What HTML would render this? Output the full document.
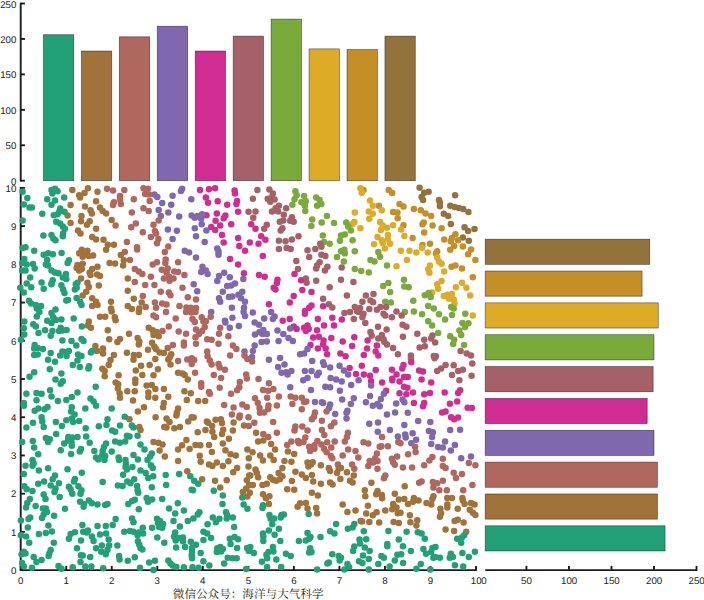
<!DOCTYPE html>
<html><head><meta charset="utf-8"><title>scatter</title>
<style>html,body{margin:0;padding:0;background:#fff}svg{display:block}text{font-family:"Liberation Sans",sans-serif;fill:#1c1c1c;text-rendering:geometricPrecision}</style></head><body>
<svg width="704" height="600" viewBox="0 0 704 600">
<rect width="704" height="600" fill="#fff"/>
<g stroke-width="0.7"><rect x="43.46" y="34.71" width="30.35" height="145.99" fill="#22A077" stroke="#000" stroke-opacity="0.55"/><rect x="81.41" y="51.01" width="30.35" height="129.69" fill="#A1723A" stroke="#000" stroke-opacity="0.55"/><rect x="119.35" y="36.83" width="30.35" height="143.87" fill="#B0675E" stroke="#000" stroke-opacity="0.55"/><rect x="157.29" y="26.20" width="30.35" height="154.50" fill="#7F68AE" stroke="#000" stroke-opacity="0.55"/><rect x="195.23" y="51.01" width="30.35" height="129.69" fill="#D12C94" stroke="#000" stroke-opacity="0.55"/><rect x="233.17" y="36.13" width="30.35" height="144.57" fill="#A66168" stroke="#000" stroke-opacity="0.55"/><rect x="271.12" y="19.12" width="30.35" height="161.58" fill="#79AA3A" stroke="#000" stroke-opacity="0.55"/><rect x="309.06" y="48.88" width="30.35" height="131.82" fill="#DDAB25" stroke="#000" stroke-opacity="0.55"/><rect x="347.00" y="49.59" width="30.35" height="131.11" fill="#C58E26" stroke="#000" stroke-opacity="0.55"/><rect x="384.94" y="36.13" width="30.35" height="144.57" fill="#93733B" stroke="#000" stroke-opacity="0.55"/></g>
<g stroke="#1c1c1c" stroke-width="1.9" fill="none"><path d="M20.70 2.72 V181.50"/><path d="M20.70 180.70 h4.2"/><path d="M20.70 145.26 h4.2"/><path d="M20.70 109.83 h4.2"/><path d="M20.70 74.39 h4.2"/><path d="M20.70 38.96 h4.2"/><path d="M20.70 3.52 h4.2"/></g>
<g font-family="'Liberation Sans', sans-serif" font-size="9.7" fill="#1a1a1a" text-anchor="end"><text x="16.3" y="184.74">0</text><text x="16.3" y="149.3">50</text><text x="16.3" y="113.87">100</text><text x="16.3" y="78.43">150</text><text x="16.3" y="43">200</text><text x="16.3" y="7.56">250</text></g>
<g stroke-width="0.7"><rect x="485.20" y="525.81" width="179.86" height="25.18" fill="#22A077" stroke="#000" stroke-opacity="0.55"/><rect x="485.20" y="493.96" width="172.20" height="25.18" fill="#A1723A" stroke="#000" stroke-opacity="0.55"/><rect x="485.20" y="462.11" width="172.20" height="25.18" fill="#B0675E" stroke="#000" stroke-opacity="0.55"/><rect x="485.20" y="430.26" width="168.80" height="25.18" fill="#7F68AE" stroke="#000" stroke-opacity="0.55"/><rect x="485.20" y="398.41" width="162.00" height="25.18" fill="#D12C94" stroke="#000" stroke-opacity="0.55"/><rect x="485.20" y="366.56" width="167.95" height="25.18" fill="#A66168" stroke="#000" stroke-opacity="0.55"/><rect x="485.20" y="334.71" width="168.80" height="25.18" fill="#79AA3A" stroke="#000" stroke-opacity="0.55"/><rect x="485.20" y="302.86" width="173.05" height="25.18" fill="#DDAB25" stroke="#000" stroke-opacity="0.55"/><rect x="485.20" y="271.01" width="156.89" height="25.18" fill="#C58E26" stroke="#000" stroke-opacity="0.55"/><rect x="485.20" y="239.16" width="164.55" height="25.18" fill="#93733B" stroke="#000" stroke-opacity="0.55"/></g>
<g stroke="#1c1c1c" stroke-width="1.9" fill="none"><path d="M485.20 570.10 H697.23"/><path d="M526.42 570.10 v-4.2"/><path d="M568.95 570.10 v-4.2"/><path d="M611.48 570.10 v-4.2"/><path d="M654.00 570.10 v-4.2"/><path d="M696.52 570.10 v-4.2"/></g>
<g font-family="'Liberation Sans', sans-serif" font-size="9.7" fill="#1a1a1a" text-anchor="middle"><text x="483.9" y="584.04">0</text><text x="526.4" y="584.04">50</text><text x="569.1" y="584.04">100</text><text x="611.6" y="584.04">150</text><text x="654.1" y="584.04">200</text><text x="696.6" y="584.04">250</text></g>
<g stroke="#1c1c1c" stroke-width="1.9" fill="none"><path d="M20.70 187.10 V570.10 H476.80"/><path d="M20.70 570.10 v-4.2"/><path d="M20.70 570.10 h4.2"/><path d="M66.23 570.10 v-4.2"/><path d="M20.70 531.88 h4.2"/><path d="M111.76 570.10 v-4.2"/><path d="M20.70 493.66 h4.2"/><path d="M157.29 570.10 v-4.2"/><path d="M20.70 455.44 h4.2"/><path d="M202.82 570.10 v-4.2"/><path d="M20.70 417.22 h4.2"/><path d="M248.35 570.10 v-4.2"/><path d="M20.70 379.00 h4.2"/><path d="M293.88 570.10 v-4.2"/><path d="M20.70 340.78 h4.2"/><path d="M339.41 570.10 v-4.2"/><path d="M20.70 302.56 h4.2"/><path d="M384.94 570.10 v-4.2"/><path d="M20.70 264.34 h4.2"/><path d="M430.47 570.10 v-4.2"/><path d="M20.70 226.12 h4.2"/><path d="M476.00 570.10 v-4.2"/><path d="M20.70 187.90 h4.2"/></g>
<g font-family="'Liberation Sans', sans-serif" font-size="9.7" fill="#1a1a1a" text-anchor="middle"><text x="20.7" y="583.79">0</text><text x="66.23" y="583.79">1</text><text x="111.76" y="583.79">2</text><text x="157.29" y="583.79">3</text><text x="202.82" y="583.79">4</text><text x="248.35" y="583.79">5</text><text x="293.88" y="583.79">6</text><text x="339.41" y="583.79">7</text><text x="384.94" y="583.79">8</text><text x="430.47" y="583.79">9</text><text x="476.2" y="583.79">10</text></g>
<g font-family="'Liberation Sans', sans-serif" font-size="9.7" fill="#1a1a1a" text-anchor="end"><text x="16.3" y="573.89">0</text><text x="16.3" y="535.67">1</text><text x="16.3" y="497.45">2</text><text x="16.3" y="459.23">3</text><text x="16.3" y="421.01">4</text><text x="16.3" y="382.79">5</text><text x="16.3" y="344.57">6</text><text x="16.3" y="306.35">7</text><text x="16.3" y="268.13">8</text><text x="16.3" y="229.91">9</text><text x="16.3" y="191.69">10</text></g>
<g fill="#93733B"><circle cx="419.6" cy="187.8" r="3.25"/><circle cx="428.6" cy="191.8" r="3.25"/><circle cx="424.2" cy="192.7" r="3.25"/><circle cx="421.6" cy="197.0" r="3.25"/><circle cx="423.0" cy="199.9" r="3.25"/><circle cx="455.1" cy="195.3" r="3.25"/><circle cx="439.0" cy="199.9" r="3.25"/><circle cx="439.9" cy="202.7" r="3.25"/><circle cx="439.9" cy="206.2" r="3.25"/><circle cx="450.2" cy="205.7" r="3.25"/><circle cx="454.6" cy="206.9" r="3.25"/><circle cx="458.9" cy="207.9" r="3.25"/><circle cx="463.2" cy="209.1" r="3.25"/><circle cx="468.4" cy="212.1" r="3.25"/><circle cx="443.8" cy="213.8" r="3.25"/><circle cx="448.2" cy="216.1" r="3.25"/><circle cx="450.8" cy="223.9" r="3.25"/><circle cx="464.5" cy="227.3" r="3.25"/><circle cx="468.1" cy="231.1" r="3.25"/><circle cx="474.5" cy="229.1" r="3.25"/><circle cx="462.9" cy="237.4" r="3.25"/><circle cx="468.8" cy="240.8" r="3.25"/></g>
<g fill="#C58E26"><circle cx="363.5" cy="190.1" r="3.25"/><circle cx="388.7" cy="190.1" r="3.25"/><circle cx="392.2" cy="193.0" r="3.25"/><circle cx="378.9" cy="205.7" r="3.25"/><circle cx="399.5" cy="203.9" r="3.25"/><circle cx="403.5" cy="206.5" r="3.25"/><circle cx="413.9" cy="209.1" r="3.25"/><circle cx="393.1" cy="212.1" r="3.25"/><circle cx="397.4" cy="212.6" r="3.25"/><circle cx="397.7" cy="218.3" r="3.25"/><circle cx="420.8" cy="210.3" r="3.25"/><circle cx="425.5" cy="213.5" r="3.25"/><circle cx="431.2" cy="216.1" r="3.25"/><circle cx="403.5" cy="225.2" r="3.25"/><circle cx="423.7" cy="222.5" r="3.25"/><circle cx="422.5" cy="224.2" r="3.25"/><circle cx="432.6" cy="225.6" r="3.25"/><circle cx="441.6" cy="228.2" r="3.25"/><circle cx="424.2" cy="232.5" r="3.25"/><circle cx="412.6" cy="238.1" r="3.25"/><circle cx="430.0" cy="243.8" r="3.25"/><circle cx="422.5" cy="245.0" r="3.25"/><circle cx="444.2" cy="239.4" r="3.25"/><circle cx="455.4" cy="234.3" r="3.25"/><circle cx="452.0" cy="238.1" r="3.25"/><circle cx="450.8" cy="241.2" r="3.25"/><circle cx="458.1" cy="240.3" r="3.25"/><circle cx="454.2" cy="246.0" r="3.25"/><circle cx="450.2" cy="249.8" r="3.25"/><circle cx="462.9" cy="246.4" r="3.25"/><circle cx="471.0" cy="249.5" r="3.25"/><circle cx="468.1" cy="254.2" r="3.25"/><circle cx="437.2" cy="251.2" r="3.25"/><circle cx="435.9" cy="253.7" r="3.25"/><circle cx="475.4" cy="259.9" r="3.25"/><circle cx="451.5" cy="266.8" r="3.25"/><circle cx="455.4" cy="265.4" r="3.25"/><circle cx="462.0" cy="268.6" r="3.25"/><circle cx="472.8" cy="277.2" r="3.25"/></g>
<g fill="#DDAB25"><circle cx="360.4" cy="188.3" r="3.25"/><circle cx="361.8" cy="192.7" r="3.25"/><circle cx="354.8" cy="212.6" r="3.25"/><circle cx="354.3" cy="222.1" r="3.25"/><circle cx="352.1" cy="224.2" r="3.25"/><circle cx="360.4" cy="228.2" r="3.25"/><circle cx="370.0" cy="200.5" r="3.25"/><circle cx="372.8" cy="205.7" r="3.25"/><circle cx="368.8" cy="211.4" r="3.25"/><circle cx="372.8" cy="213.8" r="3.25"/><circle cx="369.3" cy="218.7" r="3.25"/><circle cx="381.8" cy="210.3" r="3.25"/><circle cx="380.1" cy="222.1" r="3.25"/><circle cx="382.7" cy="225.6" r="3.25"/><circle cx="380.9" cy="229.9" r="3.25"/><circle cx="387.0" cy="227.7" r="3.25"/><circle cx="393.1" cy="225.2" r="3.25"/><circle cx="401.2" cy="229.4" r="3.25"/><circle cx="404.3" cy="236.0" r="3.25"/><circle cx="377.5" cy="236.9" r="3.25"/><circle cx="381.8" cy="240.3" r="3.25"/><circle cx="382.7" cy="242.9" r="3.25"/><circle cx="387.9" cy="235.1" r="3.25"/><circle cx="387.9" cy="239.4" r="3.25"/><circle cx="390.1" cy="243.8" r="3.25"/><circle cx="374.0" cy="244.3" r="3.25"/><circle cx="384.9" cy="248.5" r="3.25"/><circle cx="400.9" cy="250.7" r="3.25"/><circle cx="409.5" cy="250.7" r="3.25"/><circle cx="416.4" cy="252.4" r="3.25"/><circle cx="422.0" cy="247.8" r="3.25"/><circle cx="427.7" cy="252.4" r="3.25"/><circle cx="406.9" cy="259.9" r="3.25"/><circle cx="396.5" cy="266.3" r="3.25"/><circle cx="437.2" cy="257.6" r="3.25"/><circle cx="439.0" cy="261.6" r="3.25"/><circle cx="441.6" cy="263.7" r="3.25"/><circle cx="430.0" cy="265.4" r="3.25"/><circle cx="428.2" cy="269.3" r="3.25"/><circle cx="429.4" cy="272.7" r="3.25"/><circle cx="444.2" cy="271.5" r="3.25"/><circle cx="441.6" cy="281.1" r="3.25"/><circle cx="462.0" cy="282.8" r="3.25"/><circle cx="437.2" cy="284.3" r="3.25"/><circle cx="438.1" cy="288.7" r="3.25"/><circle cx="432.1" cy="292.5" r="3.25"/><circle cx="456.0" cy="287.3" r="3.25"/><circle cx="466.4" cy="287.8" r="3.25"/><circle cx="470.2" cy="295.6" r="3.25"/><circle cx="443.8" cy="295.9" r="3.25"/><circle cx="447.6" cy="294.7" r="3.25"/><circle cx="452.0" cy="293.9" r="3.25"/><circle cx="449.0" cy="298.7" r="3.25"/><circle cx="453.7" cy="299.4" r="3.25"/><circle cx="454.6" cy="303.4" r="3.25"/><circle cx="472.8" cy="315.5" r="3.25"/></g>
<g fill="#79AA3A"><circle cx="295.4" cy="191.3" r="3.25"/><circle cx="296.6" cy="195.3" r="3.25"/><circle cx="294.5" cy="199.2" r="3.25"/><circle cx="292.4" cy="204.8" r="3.25"/><circle cx="304.1" cy="196.1" r="3.25"/><circle cx="301.4" cy="202.2" r="3.25"/><circle cx="305.8" cy="201.3" r="3.25"/><circle cx="304.9" cy="205.7" r="3.25"/><circle cx="305.3" cy="210.9" r="3.25"/><circle cx="316.2" cy="197.5" r="3.25"/><circle cx="319.6" cy="199.9" r="3.25"/><circle cx="321.4" cy="203.9" r="3.25"/><circle cx="317.1" cy="205.7" r="3.25"/><circle cx="326.9" cy="216.1" r="3.25"/><circle cx="312.2" cy="219.5" r="3.25"/><circle cx="321.7" cy="222.5" r="3.25"/><circle cx="311.3" cy="225.9" r="3.25"/><circle cx="334.0" cy="223.0" r="3.25"/><circle cx="346.2" cy="222.5" r="3.25"/><circle cx="348.2" cy="226.5" r="3.25"/><circle cx="350.8" cy="230.4" r="3.25"/><circle cx="322.8" cy="235.6" r="3.25"/><circle cx="324.0" cy="242.1" r="3.25"/><circle cx="329.7" cy="243.8" r="3.25"/><circle cx="341.0" cy="235.6" r="3.25"/><circle cx="344.8" cy="234.6" r="3.25"/><circle cx="339.9" cy="240.8" r="3.25"/><circle cx="352.6" cy="240.3" r="3.25"/><circle cx="341.0" cy="251.2" r="3.25"/><circle cx="344.4" cy="249.8" r="3.25"/><circle cx="344.8" cy="253.3" r="3.25"/><circle cx="337.0" cy="257.1" r="3.25"/><circle cx="354.8" cy="251.2" r="3.25"/><circle cx="343.9" cy="261.6" r="3.25"/><circle cx="354.8" cy="268.9" r="3.25"/><circle cx="361.2" cy="271.0" r="3.25"/><circle cx="378.3" cy="251.9" r="3.25"/><circle cx="380.1" cy="256.8" r="3.25"/><circle cx="370.5" cy="259.9" r="3.25"/><circle cx="374.5" cy="261.6" r="3.25"/><circle cx="387.0" cy="265.4" r="3.25"/><circle cx="368.8" cy="272.4" r="3.25"/><circle cx="404.0" cy="279.7" r="3.25"/><circle cx="388.4" cy="283.1" r="3.25"/><circle cx="383.2" cy="286.1" r="3.25"/><circle cx="404.3" cy="286.6" r="3.25"/><circle cx="408.7" cy="287.3" r="3.25"/><circle cx="390.1" cy="292.1" r="3.25"/><circle cx="385.3" cy="301.7" r="3.25"/><circle cx="390.8" cy="302.5" r="3.25"/><circle cx="413.3" cy="300.8" r="3.25"/><circle cx="424.8" cy="295.2" r="3.25"/><circle cx="430.7" cy="297.0" r="3.25"/><circle cx="428.6" cy="293.0" r="3.25"/><circle cx="428.2" cy="306.0" r="3.25"/><circle cx="433.8" cy="308.6" r="3.25"/><circle cx="439.0" cy="314.3" r="3.25"/><circle cx="445.1" cy="319.5" r="3.25"/><circle cx="404.8" cy="312.1" r="3.25"/><circle cx="413.9" cy="311.5" r="3.25"/><circle cx="422.0" cy="314.3" r="3.25"/><circle cx="428.2" cy="321.2" r="3.25"/><circle cx="432.1" cy="325.4" r="3.25"/><circle cx="438.1" cy="332.9" r="3.25"/><circle cx="451.1" cy="306.9" r="3.25"/><circle cx="453.7" cy="308.6" r="3.25"/><circle cx="452.0" cy="315.0" r="3.25"/><circle cx="465.3" cy="313.8" r="3.25"/><circle cx="462.4" cy="323.0" r="3.25"/><circle cx="468.4" cy="323.3" r="3.25"/><circle cx="465.0" cy="327.1" r="3.25"/><circle cx="459.4" cy="330.6" r="3.25"/><circle cx="461.2" cy="335.1" r="3.25"/><circle cx="450.2" cy="336.3" r="3.25"/><circle cx="454.2" cy="339.8" r="3.25"/><circle cx="453.2" cy="344.1" r="3.25"/><circle cx="464.1" cy="345.0" r="3.25"/></g>
<g fill="#A66168"><circle cx="248.5" cy="211.7" r="3.25"/><circle cx="257.3" cy="190.1" r="3.25"/><circle cx="269.4" cy="189.6" r="3.25"/><circle cx="272.9" cy="193.5" r="3.25"/><circle cx="252.9" cy="198.7" r="3.25"/><circle cx="267.7" cy="198.7" r="3.25"/><circle cx="272.0" cy="197.0" r="3.25"/><circle cx="274.6" cy="199.6" r="3.25"/><circle cx="270.3" cy="201.7" r="3.25"/><circle cx="278.9" cy="205.7" r="3.25"/><circle cx="275.5" cy="208.3" r="3.25"/><circle cx="272.0" cy="211.4" r="3.25"/><circle cx="278.1" cy="211.4" r="3.25"/><circle cx="286.2" cy="208.3" r="3.25"/><circle cx="283.8" cy="214.8" r="3.25"/><circle cx="255.5" cy="211.4" r="3.25"/><circle cx="253.3" cy="217.8" r="3.25"/><circle cx="291.9" cy="217.3" r="3.25"/><circle cx="290.2" cy="220.7" r="3.25"/><circle cx="293.7" cy="221.8" r="3.25"/><circle cx="279.8" cy="221.8" r="3.25"/><circle cx="283.3" cy="220.4" r="3.25"/><circle cx="266.8" cy="224.7" r="3.25"/><circle cx="264.2" cy="228.7" r="3.25"/><circle cx="282.4" cy="228.2" r="3.25"/><circle cx="280.7" cy="230.4" r="3.25"/><circle cx="298.5" cy="236.3" r="3.25"/><circle cx="291.9" cy="239.4" r="3.25"/><circle cx="278.9" cy="240.8" r="3.25"/><circle cx="285.5" cy="241.2" r="3.25"/><circle cx="278.9" cy="249.0" r="3.25"/><circle cx="286.7" cy="248.1" r="3.25"/><circle cx="290.7" cy="249.0" r="3.25"/><circle cx="307.5" cy="250.2" r="3.25"/><circle cx="315.3" cy="249.0" r="3.25"/><circle cx="320.2" cy="243.8" r="3.25"/><circle cx="321.4" cy="246.7" r="3.25"/><circle cx="321.4" cy="254.7" r="3.25"/><circle cx="325.4" cy="255.9" r="3.25"/><circle cx="309.2" cy="257.1" r="3.25"/><circle cx="319.6" cy="262.3" r="3.25"/><circle cx="317.1" cy="265.4" r="3.25"/><circle cx="316.2" cy="268.6" r="3.25"/><circle cx="327.4" cy="266.8" r="3.25"/><circle cx="324.9" cy="270.6" r="3.25"/><circle cx="296.3" cy="261.1" r="3.25"/><circle cx="298.0" cy="268.9" r="3.25"/><circle cx="341.7" cy="267.5" r="3.25"/><circle cx="305.8" cy="278.4" r="3.25"/><circle cx="306.6" cy="282.8" r="3.25"/><circle cx="316.2" cy="280.7" r="3.25"/><circle cx="341.0" cy="279.7" r="3.25"/><circle cx="353.4" cy="281.9" r="3.25"/><circle cx="329.7" cy="287.3" r="3.25"/><circle cx="323.1" cy="298.7" r="3.25"/><circle cx="328.8" cy="304.3" r="3.25"/><circle cx="332.3" cy="307.4" r="3.25"/><circle cx="346.9" cy="295.6" r="3.25"/><circle cx="362.4" cy="301.7" r="3.25"/><circle cx="354.8" cy="306.9" r="3.25"/><circle cx="360.0" cy="308.1" r="3.25"/><circle cx="358.6" cy="312.1" r="3.25"/><circle cx="363.5" cy="313.8" r="3.25"/><circle cx="362.4" cy="317.3" r="3.25"/><circle cx="356.9" cy="310.9" r="3.25"/><circle cx="344.4" cy="312.9" r="3.25"/><circle cx="350.0" cy="312.1" r="3.25"/><circle cx="353.8" cy="319.0" r="3.25"/><circle cx="365.9" cy="295.6" r="3.25"/><circle cx="373.5" cy="293.9" r="3.25"/><circle cx="370.5" cy="300.4" r="3.25"/><circle cx="373.1" cy="302.2" r="3.25"/><circle cx="369.3" cy="309.1" r="3.25"/><circle cx="376.9" cy="309.8" r="3.25"/><circle cx="380.4" cy="306.9" r="3.25"/><circle cx="386.1" cy="306.9" r="3.25"/><circle cx="365.3" cy="323.0" r="3.25"/><circle cx="383.5" cy="313.8" r="3.25"/><circle cx="385.3" cy="315.5" r="3.25"/><circle cx="391.9" cy="317.3" r="3.25"/><circle cx="396.5" cy="311.5" r="3.25"/><circle cx="401.7" cy="315.5" r="3.25"/><circle cx="402.6" cy="324.7" r="3.25"/><circle cx="406.4" cy="326.8" r="3.25"/><circle cx="378.0" cy="326.8" r="3.25"/><circle cx="386.6" cy="329.4" r="3.25"/><circle cx="370.5" cy="332.0" r="3.25"/><circle cx="371.7" cy="335.8" r="3.25"/><circle cx="381.8" cy="335.1" r="3.25"/><circle cx="378.3" cy="338.6" r="3.25"/><circle cx="383.5" cy="339.3" r="3.25"/><circle cx="384.4" cy="342.0" r="3.25"/><circle cx="387.0" cy="344.5" r="3.25"/><circle cx="402.9" cy="336.8" r="3.25"/><circle cx="417.3" cy="333.7" r="3.25"/><circle cx="393.1" cy="347.9" r="3.25"/><circle cx="397.9" cy="354.2" r="3.25"/><circle cx="424.2" cy="339.8" r="3.25"/><circle cx="432.4" cy="335.4" r="3.25"/><circle cx="431.2" cy="338.6" r="3.25"/><circle cx="435.2" cy="342.4" r="3.25"/><circle cx="419.6" cy="347.6" r="3.25"/><circle cx="424.8" cy="346.2" r="3.25"/><circle cx="410.9" cy="355.4" r="3.25"/><circle cx="410.9" cy="358.3" r="3.25"/><circle cx="433.8" cy="355.9" r="3.25"/><circle cx="435.9" cy="356.2" r="3.25"/><circle cx="434.6" cy="358.3" r="3.25"/><circle cx="460.6" cy="351.1" r="3.25"/><circle cx="466.7" cy="353.6" r="3.25"/><circle cx="471.0" cy="355.4" r="3.25"/><circle cx="472.3" cy="363.5" r="3.25"/><circle cx="445.6" cy="364.9" r="3.25"/><circle cx="441.1" cy="368.4" r="3.25"/><circle cx="437.2" cy="371.0" r="3.25"/><circle cx="453.7" cy="365.3" r="3.25"/><circle cx="458.1" cy="371.0" r="3.25"/><circle cx="462.9" cy="369.8" r="3.25"/><circle cx="452.0" cy="375.0" r="3.25"/><circle cx="471.6" cy="375.7" r="3.25"/><circle cx="459.4" cy="380.3" r="3.25"/></g>
<g fill="#D12C94"><circle cx="200.0" cy="190.1" r="3.25"/><circle cx="209.0" cy="189.2" r="3.25"/><circle cx="215.1" cy="188.3" r="3.25"/><circle cx="205.9" cy="197.5" r="3.25"/><circle cx="208.1" cy="202.7" r="3.25"/><circle cx="217.7" cy="201.3" r="3.25"/><circle cx="227.2" cy="204.8" r="3.25"/><circle cx="234.6" cy="190.6" r="3.25"/><circle cx="235.0" cy="193.5" r="3.25"/><circle cx="237.1" cy="201.0" r="3.25"/><circle cx="236.4" cy="203.9" r="3.25"/><circle cx="238.1" cy="211.7" r="3.25"/><circle cx="216.8" cy="213.5" r="3.25"/><circle cx="206.4" cy="215.2" r="3.25"/><circle cx="225.4" cy="215.5" r="3.25"/><circle cx="223.7" cy="218.3" r="3.25"/><circle cx="215.6" cy="220.7" r="3.25"/><circle cx="220.2" cy="225.6" r="3.25"/><circle cx="231.2" cy="224.2" r="3.25"/><circle cx="211.2" cy="227.0" r="3.25"/><circle cx="215.1" cy="229.9" r="3.25"/><circle cx="222.0" cy="235.1" r="3.25"/><circle cx="223.7" cy="242.6" r="3.25"/><circle cx="238.1" cy="238.1" r="3.25"/><circle cx="239.3" cy="246.0" r="3.25"/><circle cx="245.0" cy="250.7" r="3.25"/><circle cx="230.1" cy="258.9" r="3.25"/><circle cx="238.1" cy="264.6" r="3.25"/><circle cx="244.0" cy="273.2" r="3.25"/><circle cx="251.2" cy="224.2" r="3.25"/><circle cx="255.5" cy="228.7" r="3.25"/><circle cx="261.2" cy="236.3" r="3.25"/><circle cx="265.4" cy="239.8" r="3.25"/><circle cx="249.8" cy="242.6" r="3.25"/><circle cx="258.5" cy="243.8" r="3.25"/><circle cx="262.8" cy="255.9" r="3.25"/><circle cx="259.0" cy="275.0" r="3.25"/><circle cx="264.7" cy="276.7" r="3.25"/><circle cx="294.5" cy="274.1" r="3.25"/><circle cx="301.1" cy="280.2" r="3.25"/><circle cx="277.5" cy="279.7" r="3.25"/><circle cx="276.9" cy="283.1" r="3.25"/><circle cx="273.7" cy="287.8" r="3.25"/><circle cx="275.5" cy="289.5" r="3.25"/><circle cx="302.3" cy="290.1" r="3.25"/><circle cx="311.5" cy="292.1" r="3.25"/><circle cx="293.7" cy="295.9" r="3.25"/><circle cx="289.8" cy="302.5" r="3.25"/><circle cx="268.9" cy="304.3" r="3.25"/><circle cx="311.5" cy="305.6" r="3.25"/><circle cx="309.2" cy="307.7" r="3.25"/><circle cx="304.9" cy="310.9" r="3.25"/><circle cx="304.9" cy="313.8" r="3.25"/><circle cx="323.1" cy="306.3" r="3.25"/><circle cx="282.7" cy="320.7" r="3.25"/><circle cx="289.7" cy="319.0" r="3.25"/><circle cx="317.9" cy="319.0" r="3.25"/><circle cx="332.3" cy="317.8" r="3.25"/><circle cx="341.8" cy="319.5" r="3.25"/><circle cx="293.7" cy="326.4" r="3.25"/><circle cx="296.6" cy="328.9" r="3.25"/><circle cx="304.1" cy="327.7" r="3.25"/><circle cx="307.5" cy="325.4" r="3.25"/><circle cx="308.7" cy="328.9" r="3.25"/><circle cx="305.8" cy="331.1" r="3.25"/><circle cx="317.1" cy="330.3" r="3.25"/><circle cx="324.0" cy="325.4" r="3.25"/><circle cx="334.0" cy="325.4" r="3.25"/><circle cx="313.2" cy="337.5" r="3.25"/><circle cx="318.8" cy="336.8" r="3.25"/><circle cx="323.6" cy="340.6" r="3.25"/><circle cx="323.1" cy="344.5" r="3.25"/><circle cx="331.3" cy="338.1" r="3.25"/><circle cx="310.5" cy="345.0" r="3.25"/><circle cx="317.9" cy="348.4" r="3.25"/><circle cx="325.7" cy="348.4" r="3.25"/><circle cx="327.1" cy="354.2" r="3.25"/><circle cx="342.7" cy="341.5" r="3.25"/><circle cx="354.3" cy="337.2" r="3.25"/><circle cx="352.1" cy="345.9" r="3.25"/><circle cx="340.4" cy="353.6" r="3.25"/><circle cx="345.6" cy="356.2" r="3.25"/><circle cx="363.8" cy="354.9" r="3.25"/><circle cx="361.8" cy="365.8" r="3.25"/><circle cx="349.6" cy="368.0" r="3.25"/><circle cx="356.0" cy="373.9" r="3.25"/><circle cx="363.8" cy="374.4" r="3.25"/><circle cx="367.6" cy="340.6" r="3.25"/><circle cx="376.9" cy="345.5" r="3.25"/><circle cx="367.1" cy="348.4" r="3.25"/><circle cx="375.7" cy="351.4" r="3.25"/><circle cx="378.3" cy="355.4" r="3.25"/><circle cx="375.7" cy="370.1" r="3.25"/><circle cx="391.9" cy="369.8" r="3.25"/><circle cx="403.5" cy="364.9" r="3.25"/><circle cx="402.2" cy="368.4" r="3.25"/><circle cx="411.3" cy="362.3" r="3.25"/><circle cx="419.1" cy="370.5" r="3.25"/><circle cx="423.0" cy="371.5" r="3.25"/><circle cx="370.0" cy="375.7" r="3.25"/><circle cx="396.5" cy="374.4" r="3.25"/><circle cx="392.2" cy="378.8" r="3.25"/><circle cx="404.0" cy="377.1" r="3.25"/><circle cx="407.8" cy="377.1" r="3.25"/><circle cx="421.6" cy="379.6" r="3.25"/><circle cx="371.1" cy="381.2" r="3.25"/><circle cx="382.1" cy="382.6" r="3.25"/><circle cx="392.2" cy="380.3" r="3.25"/><circle cx="399.5" cy="381.6" r="3.25"/><circle cx="431.2" cy="382.6" r="3.25"/><circle cx="404.0" cy="386.7" r="3.25"/><circle cx="407.4" cy="387.8" r="3.25"/><circle cx="386.1" cy="390.7" r="3.25"/><circle cx="399.5" cy="393.3" r="3.25"/><circle cx="406.4" cy="394.2" r="3.25"/><circle cx="413.0" cy="392.5" r="3.25"/><circle cx="430.0" cy="393.0" r="3.25"/><circle cx="424.2" cy="394.2" r="3.25"/><circle cx="413.9" cy="402.9" r="3.25"/><circle cx="424.2" cy="402.9" r="3.25"/><circle cx="423.0" cy="406.3" r="3.25"/><circle cx="444.7" cy="392.5" r="3.25"/><circle cx="460.1" cy="390.2" r="3.25"/><circle cx="458.1" cy="393.0" r="3.25"/><circle cx="457.2" cy="401.6" r="3.25"/><circle cx="449.9" cy="403.7" r="3.25"/><circle cx="467.6" cy="407.7" r="3.25"/><circle cx="471.9" cy="408.1" r="3.25"/><circle cx="442.1" cy="412.4" r="3.25"/><circle cx="445.6" cy="411.5" r="3.25"/><circle cx="451.1" cy="417.2" r="3.25"/><circle cx="454.2" cy="419.3" r="3.25"/><circle cx="458.1" cy="417.6" r="3.25"/></g>
<g fill="#7F68AE"><circle cx="154.4" cy="194.4" r="3.25"/><circle cx="157.3" cy="197.0" r="3.25"/><circle cx="162.2" cy="203.1" r="3.25"/><circle cx="172.6" cy="195.8" r="3.25"/><circle cx="180.9" cy="190.9" r="3.25"/><circle cx="182.1" cy="188.8" r="3.25"/><circle cx="171.2" cy="204.8" r="3.25"/><circle cx="191.3" cy="199.2" r="3.25"/><circle cx="158.7" cy="210.0" r="3.25"/><circle cx="160.8" cy="216.1" r="3.25"/><circle cx="168.3" cy="212.6" r="3.25"/><circle cx="179.2" cy="216.6" r="3.25"/><circle cx="191.7" cy="215.5" r="3.25"/><circle cx="194.8" cy="217.8" r="3.25"/><circle cx="197.7" cy="216.1" r="3.25"/><circle cx="202.1" cy="214.3" r="3.25"/><circle cx="201.2" cy="218.7" r="3.25"/><circle cx="201.7" cy="224.2" r="3.25"/><circle cx="194.8" cy="228.2" r="3.25"/><circle cx="206.4" cy="230.4" r="3.25"/><circle cx="167.9" cy="229.4" r="3.25"/><circle cx="176.9" cy="230.8" r="3.25"/><circle cx="172.6" cy="239.1" r="3.25"/><circle cx="196.0" cy="236.3" r="3.25"/><circle cx="204.7" cy="242.1" r="3.25"/><circle cx="184.7" cy="250.7" r="3.25"/><circle cx="189.1" cy="252.4" r="3.25"/><circle cx="196.0" cy="257.6" r="3.25"/><circle cx="217.3" cy="248.5" r="3.25"/><circle cx="218.5" cy="251.6" r="3.25"/><circle cx="218.5" cy="254.7" r="3.25"/><circle cx="202.4" cy="266.8" r="3.25"/><circle cx="201.2" cy="272.0" r="3.25"/><circle cx="205.9" cy="270.6" r="3.25"/><circle cx="207.6" cy="274.1" r="3.25"/><circle cx="224.2" cy="272.7" r="3.25"/><circle cx="219.0" cy="275.9" r="3.25"/><circle cx="217.3" cy="281.1" r="3.25"/><circle cx="229.8" cy="277.2" r="3.25"/><circle cx="235.0" cy="283.6" r="3.25"/><circle cx="243.3" cy="279.0" r="3.25"/><circle cx="193.7" cy="284.3" r="3.25"/><circle cx="197.2" cy="291.3" r="3.25"/><circle cx="227.2" cy="286.1" r="3.25"/><circle cx="231.2" cy="285.6" r="3.25"/><circle cx="222.8" cy="291.8" r="3.25"/><circle cx="228.9" cy="297.0" r="3.25"/><circle cx="232.4" cy="296.5" r="3.25"/><circle cx="219.0" cy="298.2" r="3.25"/><circle cx="220.2" cy="301.7" r="3.25"/><circle cx="238.4" cy="294.7" r="3.25"/><circle cx="242.3" cy="291.8" r="3.25"/><circle cx="241.0" cy="298.2" r="3.25"/><circle cx="245.0" cy="301.7" r="3.25"/><circle cx="231.9" cy="307.7" r="3.25"/><circle cx="244.0" cy="307.7" r="3.25"/><circle cx="243.6" cy="312.1" r="3.25"/><circle cx="245.0" cy="316.1" r="3.25"/><circle cx="211.2" cy="312.1" r="3.25"/><circle cx="232.4" cy="317.8" r="3.25"/><circle cx="224.9" cy="320.7" r="3.25"/><circle cx="225.4" cy="322.5" r="3.25"/><circle cx="229.8" cy="327.7" r="3.25"/><circle cx="238.8" cy="325.9" r="3.25"/><circle cx="244.5" cy="351.4" r="3.25"/><circle cx="252.9" cy="312.6" r="3.25"/><circle cx="271.1" cy="312.1" r="3.25"/><circle cx="274.6" cy="316.4" r="3.25"/><circle cx="272.9" cy="319.0" r="3.25"/><circle cx="264.2" cy="318.5" r="3.25"/><circle cx="254.7" cy="322.5" r="3.25"/><circle cx="259.0" cy="324.7" r="3.25"/><circle cx="263.3" cy="329.9" r="3.25"/><circle cx="259.5" cy="332.0" r="3.25"/><circle cx="255.0" cy="334.6" r="3.25"/><circle cx="262.5" cy="334.1" r="3.25"/><circle cx="266.8" cy="334.1" r="3.25"/><circle cx="277.5" cy="330.6" r="3.25"/><circle cx="283.3" cy="334.1" r="3.25"/><circle cx="290.2" cy="328.5" r="3.25"/><circle cx="288.5" cy="338.1" r="3.25"/><circle cx="292.8" cy="341.0" r="3.25"/><circle cx="278.6" cy="341.0" r="3.25"/><circle cx="261.6" cy="342.0" r="3.25"/><circle cx="266.8" cy="341.5" r="3.25"/><circle cx="254.7" cy="345.5" r="3.25"/><circle cx="252.9" cy="351.1" r="3.25"/><circle cx="252.1" cy="357.1" r="3.25"/><circle cx="307.5" cy="349.0" r="3.25"/><circle cx="304.1" cy="353.6" r="3.25"/><circle cx="300.1" cy="354.2" r="3.25"/><circle cx="268.9" cy="359.7" r="3.25"/><circle cx="280.1" cy="358.0" r="3.25"/><circle cx="312.2" cy="361.1" r="3.25"/><circle cx="284.5" cy="364.6" r="3.25"/><circle cx="278.1" cy="367.0" r="3.25"/><circle cx="323.1" cy="362.3" r="3.25"/><circle cx="324.0" cy="364.9" r="3.25"/><circle cx="330.1" cy="367.5" r="3.25"/><circle cx="339.6" cy="365.8" r="3.25"/><circle cx="343.9" cy="370.5" r="3.25"/><circle cx="281.5" cy="372.7" r="3.25"/><circle cx="286.2" cy="372.2" r="3.25"/><circle cx="291.4" cy="371.0" r="3.25"/><circle cx="287.6" cy="374.4" r="3.25"/><circle cx="304.9" cy="371.0" r="3.25"/><circle cx="311.5" cy="371.0" r="3.25"/><circle cx="318.8" cy="372.7" r="3.25"/><circle cx="317.1" cy="375.3" r="3.25"/><circle cx="307.5" cy="377.9" r="3.25"/><circle cx="330.6" cy="377.9" r="3.25"/><circle cx="336.1" cy="379.6" r="3.25"/><circle cx="348.2" cy="374.4" r="3.25"/><circle cx="303.2" cy="380.3" r="3.25"/><circle cx="341.7" cy="381.6" r="3.25"/><circle cx="290.2" cy="387.3" r="3.25"/><circle cx="311.0" cy="389.9" r="3.25"/><circle cx="325.4" cy="386.7" r="3.25"/><circle cx="330.1" cy="387.3" r="3.25"/><circle cx="339.9" cy="390.7" r="3.25"/><circle cx="351.2" cy="385.0" r="3.25"/><circle cx="358.6" cy="380.3" r="3.25"/><circle cx="342.2" cy="399.4" r="3.25"/><circle cx="353.8" cy="398.2" r="3.25"/><circle cx="350.8" cy="404.1" r="3.25"/><circle cx="315.0" cy="402.0" r="3.25"/><circle cx="321.9" cy="402.3" r="3.25"/><circle cx="323.1" cy="402.9" r="3.25"/><circle cx="330.1" cy="404.6" r="3.25"/><circle cx="329.2" cy="408.1" r="3.25"/><circle cx="347.4" cy="410.7" r="3.25"/><circle cx="346.5" cy="412.7" r="3.25"/><circle cx="335.2" cy="414.1" r="3.25"/><circle cx="346.5" cy="418.5" r="3.25"/><circle cx="371.1" cy="385.5" r="3.25"/><circle cx="370.0" cy="395.9" r="3.25"/><circle cx="383.9" cy="393.7" r="3.25"/><circle cx="380.9" cy="398.9" r="3.25"/><circle cx="365.9" cy="402.3" r="3.25"/><circle cx="372.8" cy="405.8" r="3.25"/><circle cx="377.5" cy="404.1" r="3.25"/><circle cx="379.7" cy="406.3" r="3.25"/><circle cx="402.6" cy="399.4" r="3.25"/><circle cx="404.3" cy="402.3" r="3.25"/><circle cx="396.2" cy="403.4" r="3.25"/><circle cx="387.0" cy="414.5" r="3.25"/><circle cx="395.1" cy="412.4" r="3.25"/><circle cx="407.8" cy="412.7" r="3.25"/><circle cx="369.3" cy="423.7" r="3.25"/><circle cx="378.0" cy="422.4" r="3.25"/><circle cx="418.2" cy="421.1" r="3.25"/><circle cx="430.3" cy="421.9" r="3.25"/><circle cx="404.3" cy="424.9" r="3.25"/><circle cx="377.8" cy="431.8" r="3.25"/><circle cx="389.9" cy="430.1" r="3.25"/><circle cx="412.6" cy="433.2" r="3.25"/><circle cx="405.2" cy="434.6" r="3.25"/><circle cx="405.7" cy="437.5" r="3.25"/><circle cx="397.9" cy="436.6" r="3.25"/><circle cx="416.1" cy="439.8" r="3.25"/><circle cx="411.3" cy="443.2" r="3.25"/><circle cx="428.9" cy="431.1" r="3.25"/><circle cx="432.9" cy="432.3" r="3.25"/><circle cx="432.1" cy="437.0" r="3.25"/><circle cx="431.2" cy="443.9" r="3.25"/><circle cx="450.2" cy="430.1" r="3.25"/><circle cx="460.1" cy="429.7" r="3.25"/><circle cx="445.1" cy="441.5" r="3.25"/><circle cx="438.1" cy="447.1" r="3.25"/><circle cx="442.8" cy="447.4" r="3.25"/><circle cx="454.9" cy="445.0" r="3.25"/><circle cx="450.8" cy="450.5" r="3.25"/><circle cx="461.2" cy="458.3" r="3.25"/><circle cx="471.0" cy="456.6" r="3.25"/></g>
<g fill="#B0675E"><circle cx="107.0" cy="188.8" r="3.25"/><circle cx="113.0" cy="190.6" r="3.25"/><circle cx="124.3" cy="190.1" r="3.25"/><circle cx="120.0" cy="196.1" r="3.25"/><circle cx="120.0" cy="199.6" r="3.25"/><circle cx="120.8" cy="203.9" r="3.25"/><circle cx="113.9" cy="202.2" r="3.25"/><circle cx="113.0" cy="205.1" r="3.25"/><circle cx="133.8" cy="199.2" r="3.25"/><circle cx="131.8" cy="212.6" r="3.25"/><circle cx="115.6" cy="225.6" r="3.25"/><circle cx="131.2" cy="227.3" r="3.25"/><circle cx="126.9" cy="242.1" r="3.25"/><circle cx="124.8" cy="251.9" r="3.25"/><circle cx="130.0" cy="259.9" r="3.25"/><circle cx="143.5" cy="188.3" r="3.25"/><circle cx="148.0" cy="188.8" r="3.25"/><circle cx="145.2" cy="194.1" r="3.25"/><circle cx="149.2" cy="194.4" r="3.25"/><circle cx="149.7" cy="201.0" r="3.25"/><circle cx="143.5" cy="208.3" r="3.25"/><circle cx="148.7" cy="210.9" r="3.25"/><circle cx="135.8" cy="223.5" r="3.25"/><circle cx="153.5" cy="224.7" r="3.25"/><circle cx="158.7" cy="220.4" r="3.25"/><circle cx="142.8" cy="232.2" r="3.25"/><circle cx="154.9" cy="231.1" r="3.25"/><circle cx="156.1" cy="233.4" r="3.25"/><circle cx="150.9" cy="236.9" r="3.25"/><circle cx="158.4" cy="239.1" r="3.25"/><circle cx="157.0" cy="243.3" r="3.25"/><circle cx="137.1" cy="247.2" r="3.25"/><circle cx="137.1" cy="249.5" r="3.25"/><circle cx="168.3" cy="246.4" r="3.25"/><circle cx="164.8" cy="252.1" r="3.25"/><circle cx="165.7" cy="259.4" r="3.25"/><circle cx="165.3" cy="262.9" r="3.25"/><circle cx="157.0" cy="262.3" r="3.25"/><circle cx="152.7" cy="264.6" r="3.25"/><circle cx="178.1" cy="262.3" r="3.25"/><circle cx="134.8" cy="268.9" r="3.25"/><circle cx="138.8" cy="271.5" r="3.25"/><circle cx="142.3" cy="274.1" r="3.25"/><circle cx="161.8" cy="269.8" r="3.25"/><circle cx="167.7" cy="268.6" r="3.25"/><circle cx="166.5" cy="272.4" r="3.25"/><circle cx="174.3" cy="271.5" r="3.25"/><circle cx="178.1" cy="272.0" r="3.25"/><circle cx="184.4" cy="275.0" r="3.25"/><circle cx="150.9" cy="276.7" r="3.25"/><circle cx="163.9" cy="278.4" r="3.25"/><circle cx="169.1" cy="276.7" r="3.25"/><circle cx="169.5" cy="280.7" r="3.25"/><circle cx="173.5" cy="278.4" r="3.25"/><circle cx="134.8" cy="281.9" r="3.25"/><circle cx="145.2" cy="284.9" r="3.25"/><circle cx="154.4" cy="284.9" r="3.25"/><circle cx="182.5" cy="287.8" r="3.25"/><circle cx="160.8" cy="291.8" r="3.25"/><circle cx="168.8" cy="292.5" r="3.25"/><circle cx="170.5" cy="295.2" r="3.25"/><circle cx="142.8" cy="295.9" r="3.25"/><circle cx="187.8" cy="297.3" r="3.25"/><circle cx="196.0" cy="299.4" r="3.25"/><circle cx="154.9" cy="302.5" r="3.25"/><circle cx="156.1" cy="307.7" r="3.25"/><circle cx="162.2" cy="303.4" r="3.25"/><circle cx="166.5" cy="304.6" r="3.25"/><circle cx="145.7" cy="306.9" r="3.25"/><circle cx="179.5" cy="306.0" r="3.25"/><circle cx="166.0" cy="312.1" r="3.25"/><circle cx="186.4" cy="307.4" r="3.25"/><circle cx="190.8" cy="307.7" r="3.25"/><circle cx="196.0" cy="308.1" r="3.25"/><circle cx="186.1" cy="312.1" r="3.25"/><circle cx="191.3" cy="312.6" r="3.25"/><circle cx="195.5" cy="312.1" r="3.25"/><circle cx="153.5" cy="315.5" r="3.25"/><circle cx="156.1" cy="317.3" r="3.25"/><circle cx="175.7" cy="318.5" r="3.25"/><circle cx="192.5" cy="319.0" r="3.25"/><circle cx="194.8" cy="321.9" r="3.25"/><circle cx="201.7" cy="317.3" r="3.25"/><circle cx="203.4" cy="321.6" r="3.25"/><circle cx="205.9" cy="321.2" r="3.25"/><circle cx="210.7" cy="316.7" r="3.25"/><circle cx="168.8" cy="326.4" r="3.25"/><circle cx="162.5" cy="331.1" r="3.25"/><circle cx="178.7" cy="331.6" r="3.25"/><circle cx="186.1" cy="333.7" r="3.25"/><circle cx="204.7" cy="327.1" r="3.25"/><circle cx="202.1" cy="331.1" r="3.25"/><circle cx="196.0" cy="329.4" r="3.25"/><circle cx="198.9" cy="334.1" r="3.25"/><circle cx="195.5" cy="337.2" r="3.25"/><circle cx="220.2" cy="327.7" r="3.25"/><circle cx="219.0" cy="333.7" r="3.25"/><circle cx="228.4" cy="336.3" r="3.25"/><circle cx="207.2" cy="339.3" r="3.25"/><circle cx="211.6" cy="339.8" r="3.25"/><circle cx="196.0" cy="343.8" r="3.25"/><circle cx="218.5" cy="343.8" r="3.25"/><circle cx="183.9" cy="342.4" r="3.25"/><circle cx="183.9" cy="345.5" r="3.25"/><circle cx="172.9" cy="345.0" r="3.25"/><circle cx="167.7" cy="347.9" r="3.25"/><circle cx="232.9" cy="345.5" r="3.25"/><circle cx="236.4" cy="349.0" r="3.25"/><circle cx="207.2" cy="351.4" r="3.25"/><circle cx="207.6" cy="356.2" r="3.25"/><circle cx="230.1" cy="355.4" r="3.25"/><circle cx="209.8" cy="360.6" r="3.25"/><circle cx="211.6" cy="364.6" r="3.25"/><circle cx="218.5" cy="364.1" r="3.25"/><circle cx="219.7" cy="367.5" r="3.25"/><circle cx="224.9" cy="369.8" r="3.25"/><circle cx="178.1" cy="361.1" r="3.25"/><circle cx="187.3" cy="359.4" r="3.25"/><circle cx="191.7" cy="358.3" r="3.25"/><circle cx="194.2" cy="360.1" r="3.25"/><circle cx="191.7" cy="364.1" r="3.25"/><circle cx="195.1" cy="372.7" r="3.25"/><circle cx="213.8" cy="375.0" r="3.25"/><circle cx="221.1" cy="377.9" r="3.25"/><circle cx="244.5" cy="355.4" r="3.25"/><circle cx="247.4" cy="358.9" r="3.25"/><circle cx="246.2" cy="374.4" r="3.25"/><circle cx="246.8" cy="378.4" r="3.25"/><circle cx="201.2" cy="383.3" r="3.25"/><circle cx="201.2" cy="386.7" r="3.25"/><circle cx="219.7" cy="387.8" r="3.25"/><circle cx="209.0" cy="391.9" r="3.25"/><circle cx="209.8" cy="393.7" r="3.25"/><circle cx="239.8" cy="382.1" r="3.25"/><circle cx="239.3" cy="387.3" r="3.25"/><circle cx="237.1" cy="390.2" r="3.25"/><circle cx="231.0" cy="393.7" r="3.25"/><circle cx="224.2" cy="405.1" r="3.25"/><circle cx="233.6" cy="407.5" r="3.25"/><circle cx="242.3" cy="404.6" r="3.25"/><circle cx="246.8" cy="406.9" r="3.25"/><circle cx="231.9" cy="414.5" r="3.25"/><circle cx="239.8" cy="415.5" r="3.25"/><circle cx="239.3" cy="417.6" r="3.25"/><circle cx="248.5" cy="417.2" r="3.25"/><circle cx="248.8" cy="425.9" r="3.25"/><circle cx="252.1" cy="361.4" r="3.25"/><circle cx="258.5" cy="379.1" r="3.25"/><circle cx="268.9" cy="383.3" r="3.25"/><circle cx="263.0" cy="389.9" r="3.25"/><circle cx="268.2" cy="390.7" r="3.25"/><circle cx="273.4" cy="389.0" r="3.25"/><circle cx="278.9" cy="396.4" r="3.25"/><circle cx="255.0" cy="398.2" r="3.25"/><circle cx="257.8" cy="402.9" r="3.25"/><circle cx="267.1" cy="397.7" r="3.25"/><circle cx="268.5" cy="405.5" r="3.25"/><circle cx="268.2" cy="408.9" r="3.25"/><circle cx="264.2" cy="412.4" r="3.25"/><circle cx="259.9" cy="412.7" r="3.25"/><circle cx="259.5" cy="408.1" r="3.25"/><circle cx="276.9" cy="405.5" r="3.25"/><circle cx="254.3" cy="422.8" r="3.25"/><circle cx="273.2" cy="421.9" r="3.25"/><circle cx="290.7" cy="396.4" r="3.25"/><circle cx="295.4" cy="397.7" r="3.25"/><circle cx="301.8" cy="397.7" r="3.25"/><circle cx="304.1" cy="402.0" r="3.25"/><circle cx="306.3" cy="401.6" r="3.25"/><circle cx="292.4" cy="404.1" r="3.25"/><circle cx="301.8" cy="409.3" r="3.25"/><circle cx="315.0" cy="412.4" r="3.25"/><circle cx="313.9" cy="416.7" r="3.25"/><circle cx="311.9" cy="419.3" r="3.25"/><circle cx="321.9" cy="420.7" r="3.25"/><circle cx="326.6" cy="411.5" r="3.25"/><circle cx="295.4" cy="426.6" r="3.25"/><circle cx="294.5" cy="430.6" r="3.25"/><circle cx="302.3" cy="426.6" r="3.25"/><circle cx="307.5" cy="430.6" r="3.25"/><circle cx="334.4" cy="422.4" r="3.25"/><circle cx="330.9" cy="426.3" r="3.25"/><circle cx="321.9" cy="430.1" r="3.25"/><circle cx="324.3" cy="434.9" r="3.25"/><circle cx="276.9" cy="432.8" r="3.25"/><circle cx="263.3" cy="434.1" r="3.25"/><circle cx="268.2" cy="437.0" r="3.25"/><circle cx="305.3" cy="437.5" r="3.25"/><circle cx="303.5" cy="441.9" r="3.25"/><circle cx="291.4" cy="441.5" r="3.25"/><circle cx="287.2" cy="445.0" r="3.25"/><circle cx="298.0" cy="441.0" r="3.25"/><circle cx="298.9" cy="443.2" r="3.25"/><circle cx="317.4" cy="441.0" r="3.25"/><circle cx="314.4" cy="445.3" r="3.25"/><circle cx="309.2" cy="446.7" r="3.25"/><circle cx="310.1" cy="450.9" r="3.25"/><circle cx="314.4" cy="448.8" r="3.25"/><circle cx="321.4" cy="444.4" r="3.25"/><circle cx="324.0" cy="448.8" r="3.25"/><circle cx="326.6" cy="452.2" r="3.25"/><circle cx="327.1" cy="442.2" r="3.25"/><circle cx="334.7" cy="441.5" r="3.25"/><circle cx="331.3" cy="447.4" r="3.25"/><circle cx="330.9" cy="456.1" r="3.25"/><circle cx="332.3" cy="458.3" r="3.25"/><circle cx="347.9" cy="432.8" r="3.25"/><circle cx="346.9" cy="437.0" r="3.25"/><circle cx="344.8" cy="441.5" r="3.25"/><circle cx="348.2" cy="449.6" r="3.25"/><circle cx="342.7" cy="455.4" r="3.25"/><circle cx="355.5" cy="450.9" r="3.25"/><circle cx="358.3" cy="457.4" r="3.25"/><circle cx="363.5" cy="442.2" r="3.25"/><circle cx="352.1" cy="464.4" r="3.25"/><circle cx="354.3" cy="468.7" r="3.25"/><circle cx="337.9" cy="464.4" r="3.25"/><circle cx="382.1" cy="437.0" r="3.25"/><circle cx="368.3" cy="443.6" r="3.25"/><circle cx="379.7" cy="446.7" r="3.25"/><circle cx="381.4" cy="446.2" r="3.25"/><circle cx="387.9" cy="446.2" r="3.25"/><circle cx="398.3" cy="441.9" r="3.25"/><circle cx="400.5" cy="443.2" r="3.25"/><circle cx="415.1" cy="446.7" r="3.25"/><circle cx="415.6" cy="451.9" r="3.25"/><circle cx="376.9" cy="453.6" r="3.25"/><circle cx="408.1" cy="454.3" r="3.25"/><circle cx="375.2" cy="458.3" r="3.25"/><circle cx="369.7" cy="460.9" r="3.25"/><circle cx="373.1" cy="462.6" r="3.25"/><circle cx="377.5" cy="460.9" r="3.25"/><circle cx="368.3" cy="466.1" r="3.25"/><circle cx="377.5" cy="468.7" r="3.25"/><circle cx="391.9" cy="458.8" r="3.25"/><circle cx="397.1" cy="456.6" r="3.25"/><circle cx="393.1" cy="462.3" r="3.25"/><circle cx="394.8" cy="464.7" r="3.25"/><circle cx="402.9" cy="467.5" r="3.25"/><circle cx="412.1" cy="467.5" r="3.25"/><circle cx="432.4" cy="457.1" r="3.25"/><circle cx="429.4" cy="460.6" r="3.25"/><circle cx="424.2" cy="465.2" r="3.25"/><circle cx="442.8" cy="458.8" r="3.25"/><circle cx="442.8" cy="466.1" r="3.25"/><circle cx="445.6" cy="467.9" r="3.25"/><circle cx="468.8" cy="463.0" r="3.25"/><circle cx="475.4" cy="465.2" r="3.25"/><circle cx="453.7" cy="472.7" r="3.25"/><circle cx="461.9" cy="473.9" r="3.25"/><circle cx="385.3" cy="475.6" r="3.25"/><circle cx="383.9" cy="478.2" r="3.25"/><circle cx="419.1" cy="482.7" r="3.25"/><circle cx="421.6" cy="481.5" r="3.25"/><circle cx="432.9" cy="482.1" r="3.25"/><circle cx="437.2" cy="483.3" r="3.25"/><circle cx="442.8" cy="480.7" r="3.25"/><circle cx="433.4" cy="487.6" r="3.25"/><circle cx="439.3" cy="490.2" r="3.25"/><circle cx="446.8" cy="490.2" r="3.25"/><circle cx="456.0" cy="478.1" r="3.25"/><circle cx="463.2" cy="490.2" r="3.25"/><circle cx="472.4" cy="485.0" r="3.25"/></g>
<g fill="#A1723A"><circle cx="72.3" cy="190.1" r="3.25"/><circle cx="87.9" cy="188.3" r="3.25"/><circle cx="84.5" cy="193.0" r="3.25"/><circle cx="79.2" cy="195.3" r="3.25"/><circle cx="80.1" cy="197.5" r="3.25"/><circle cx="97.5" cy="191.8" r="3.25"/><circle cx="96.1" cy="201.3" r="3.25"/><circle cx="70.6" cy="205.1" r="3.25"/><circle cx="85.0" cy="206.5" r="3.25"/><circle cx="90.5" cy="210.3" r="3.25"/><circle cx="91.9" cy="213.5" r="3.25"/><circle cx="100.0" cy="207.4" r="3.25"/><circle cx="102.7" cy="210.9" r="3.25"/><circle cx="106.1" cy="213.5" r="3.25"/><circle cx="67.6" cy="215.5" r="3.25"/><circle cx="81.5" cy="216.1" r="3.25"/><circle cx="81.0" cy="221.3" r="3.25"/><circle cx="89.7" cy="221.3" r="3.25"/><circle cx="87.0" cy="224.7" r="3.25"/><circle cx="70.6" cy="223.0" r="3.25"/><circle cx="111.7" cy="219.9" r="3.25"/><circle cx="96.1" cy="228.7" r="3.25"/><circle cx="78.0" cy="230.4" r="3.25"/><circle cx="80.5" cy="233.4" r="3.25"/><circle cx="92.2" cy="236.9" r="3.25"/><circle cx="96.1" cy="239.4" r="3.25"/><circle cx="103.5" cy="239.8" r="3.25"/><circle cx="107.8" cy="244.7" r="3.25"/><circle cx="113.9" cy="244.7" r="3.25"/><circle cx="106.1" cy="249.8" r="3.25"/><circle cx="81.8" cy="249.8" r="3.25"/><circle cx="87.4" cy="250.7" r="3.25"/><circle cx="79.2" cy="253.3" r="3.25"/><circle cx="84.5" cy="255.1" r="3.25"/><circle cx="88.8" cy="255.9" r="3.25"/><circle cx="93.1" cy="255.4" r="3.25"/><circle cx="82.7" cy="256.8" r="3.25"/><circle cx="77.5" cy="265.1" r="3.25"/><circle cx="82.7" cy="263.7" r="3.25"/><circle cx="76.7" cy="268.1" r="3.25"/><circle cx="81.8" cy="268.9" r="3.25"/><circle cx="79.2" cy="270.6" r="3.25"/><circle cx="92.2" cy="268.9" r="3.25"/><circle cx="97.5" cy="266.8" r="3.25"/><circle cx="89.7" cy="272.4" r="3.25"/><circle cx="90.5" cy="275.0" r="3.25"/><circle cx="97.1" cy="274.5" r="3.25"/><circle cx="100.0" cy="275.9" r="3.25"/><circle cx="109.6" cy="262.9" r="3.25"/><circle cx="115.1" cy="263.4" r="3.25"/><circle cx="120.8" cy="255.1" r="3.25"/><circle cx="123.8" cy="260.2" r="3.25"/><circle cx="123.1" cy="265.4" r="3.25"/><circle cx="81.0" cy="278.4" r="3.25"/><circle cx="87.4" cy="282.8" r="3.25"/><circle cx="127.8" cy="278.4" r="3.25"/><circle cx="88.8" cy="286.9" r="3.25"/><circle cx="86.2" cy="291.8" r="3.25"/><circle cx="82.7" cy="295.6" r="3.25"/><circle cx="98.8" cy="285.6" r="3.25"/><circle cx="92.2" cy="298.2" r="3.25"/><circle cx="96.1" cy="301.7" r="3.25"/><circle cx="92.2" cy="306.0" r="3.25"/><circle cx="97.5" cy="305.1" r="3.25"/><circle cx="111.0" cy="301.7" r="3.25"/><circle cx="111.0" cy="308.6" r="3.25"/><circle cx="111.7" cy="311.5" r="3.25"/><circle cx="100.0" cy="316.7" r="3.25"/><circle cx="105.2" cy="316.7" r="3.25"/><circle cx="114.8" cy="317.3" r="3.25"/><circle cx="115.6" cy="320.2" r="3.25"/><circle cx="88.8" cy="321.6" r="3.25"/><circle cx="87.9" cy="325.4" r="3.25"/><circle cx="90.9" cy="327.7" r="3.25"/><circle cx="107.8" cy="330.3" r="3.25"/><circle cx="109.2" cy="339.3" r="3.25"/><circle cx="120.0" cy="338.9" r="3.25"/><circle cx="117.4" cy="342.0" r="3.25"/><circle cx="95.4" cy="345.9" r="3.25"/><circle cx="97.1" cy="351.1" r="3.25"/><circle cx="103.0" cy="348.4" r="3.25"/><circle cx="103.0" cy="353.6" r="3.25"/><circle cx="113.9" cy="354.9" r="3.25"/><circle cx="110.5" cy="360.1" r="3.25"/><circle cx="108.7" cy="364.9" r="3.25"/><circle cx="102.3" cy="368.7" r="3.25"/><circle cx="104.7" cy="371.0" r="3.25"/><circle cx="104.7" cy="376.2" r="3.25"/><circle cx="118.6" cy="375.3" r="3.25"/><circle cx="127.8" cy="290.7" r="3.25"/><circle cx="133.8" cy="298.7" r="3.25"/><circle cx="127.8" cy="306.0" r="3.25"/><circle cx="131.8" cy="309.1" r="3.25"/><circle cx="129.0" cy="333.7" r="3.25"/><circle cx="126.9" cy="352.8" r="3.25"/><circle cx="133.8" cy="354.9" r="3.25"/><circle cx="133.5" cy="359.7" r="3.25"/><circle cx="115.6" cy="382.6" r="3.25"/><circle cx="118.2" cy="384.3" r="3.25"/><circle cx="117.9" cy="388.5" r="3.25"/><circle cx="119.6" cy="393.3" r="3.25"/><circle cx="120.0" cy="397.7" r="3.25"/><circle cx="127.3" cy="391.2" r="3.25"/><circle cx="133.0" cy="400.6" r="3.25"/><circle cx="129.5" cy="419.3" r="3.25"/><circle cx="141.7" cy="302.5" r="3.25"/><circle cx="139.3" cy="308.6" r="3.25"/><circle cx="138.8" cy="312.1" r="3.25"/><circle cx="148.7" cy="327.7" r="3.25"/><circle cx="152.7" cy="330.3" r="3.25"/><circle cx="156.7" cy="332.0" r="3.25"/><circle cx="153.5" cy="335.1" r="3.25"/><circle cx="158.7" cy="336.3" r="3.25"/><circle cx="137.6" cy="338.1" r="3.25"/><circle cx="139.3" cy="341.5" r="3.25"/><circle cx="138.8" cy="344.5" r="3.25"/><circle cx="152.1" cy="342.7" r="3.25"/><circle cx="154.4" cy="346.7" r="3.25"/><circle cx="156.1" cy="349.3" r="3.25"/><circle cx="148.0" cy="349.7" r="3.25"/><circle cx="159.6" cy="352.4" r="3.25"/><circle cx="163.9" cy="353.1" r="3.25"/><circle cx="171.2" cy="354.2" r="3.25"/><circle cx="170.0" cy="357.1" r="3.25"/><circle cx="168.3" cy="359.4" r="3.25"/><circle cx="138.8" cy="354.9" r="3.25"/><circle cx="155.3" cy="358.9" r="3.25"/><circle cx="141.1" cy="365.8" r="3.25"/><circle cx="149.7" cy="364.9" r="3.25"/><circle cx="170.5" cy="364.6" r="3.25"/><circle cx="135.8" cy="370.5" r="3.25"/><circle cx="157.9" cy="369.2" r="3.25"/><circle cx="142.3" cy="375.0" r="3.25"/><circle cx="153.5" cy="375.3" r="3.25"/><circle cx="178.1" cy="372.7" r="3.25"/><circle cx="182.6" cy="373.6" r="3.25"/><circle cx="184.7" cy="375.0" r="3.25"/><circle cx="187.8" cy="379.6" r="3.25"/><circle cx="135.3" cy="379.6" r="3.25"/><circle cx="135.3" cy="382.9" r="3.25"/><circle cx="134.8" cy="391.2" r="3.25"/><circle cx="146.6" cy="385.5" r="3.25"/><circle cx="151.8" cy="385.0" r="3.25"/><circle cx="155.3" cy="389.0" r="3.25"/><circle cx="148.3" cy="392.5" r="3.25"/><circle cx="148.3" cy="397.1" r="3.25"/><circle cx="155.3" cy="397.7" r="3.25"/><circle cx="163.9" cy="389.0" r="3.25"/><circle cx="168.3" cy="396.8" r="3.25"/><circle cx="184.4" cy="391.2" r="3.25"/><circle cx="190.8" cy="393.3" r="3.25"/><circle cx="186.8" cy="399.9" r="3.25"/><circle cx="198.2" cy="401.1" r="3.25"/><circle cx="205.2" cy="401.1" r="3.25"/><circle cx="163.9" cy="402.9" r="3.25"/><circle cx="163.1" cy="407.2" r="3.25"/><circle cx="144.0" cy="407.2" r="3.25"/><circle cx="137.9" cy="411.5" r="3.25"/><circle cx="178.1" cy="408.6" r="3.25"/><circle cx="176.9" cy="412.4" r="3.25"/><circle cx="176.4" cy="415.5" r="3.25"/><circle cx="155.6" cy="417.2" r="3.25"/><circle cx="166.5" cy="418.5" r="3.25"/><circle cx="169.5" cy="421.9" r="3.25"/><circle cx="191.7" cy="417.2" r="3.25"/><circle cx="193.7" cy="417.6" r="3.25"/><circle cx="188.2" cy="421.4" r="3.25"/><circle cx="139.3" cy="427.1" r="3.25"/><circle cx="140.5" cy="430.1" r="3.25"/><circle cx="164.3" cy="427.1" r="3.25"/><circle cx="166.5" cy="427.6" r="3.25"/><circle cx="174.3" cy="428.3" r="3.25"/><circle cx="179.9" cy="427.1" r="3.25"/><circle cx="206.9" cy="421.4" r="3.25"/><circle cx="208.1" cy="422.8" r="3.25"/><circle cx="215.6" cy="419.7" r="3.25"/><circle cx="220.8" cy="419.3" r="3.25"/><circle cx="222.0" cy="423.1" r="3.25"/><circle cx="212.1" cy="425.9" r="3.25"/><circle cx="233.6" cy="422.4" r="3.25"/><circle cx="244.0" cy="425.4" r="3.25"/><circle cx="205.5" cy="430.1" r="3.25"/><circle cx="197.7" cy="432.3" r="3.25"/><circle cx="212.4" cy="431.8" r="3.25"/><circle cx="214.2" cy="437.0" r="3.25"/><circle cx="223.2" cy="429.7" r="3.25"/><circle cx="222.0" cy="434.1" r="3.25"/><circle cx="232.9" cy="430.6" r="3.25"/><circle cx="228.9" cy="438.7" r="3.25"/><circle cx="186.4" cy="440.1" r="3.25"/><circle cx="153.5" cy="441.9" r="3.25"/><circle cx="158.4" cy="442.7" r="3.25"/><circle cx="162.5" cy="444.4" r="3.25"/><circle cx="182.1" cy="445.3" r="3.25"/><circle cx="178.1" cy="449.6" r="3.25"/><circle cx="195.5" cy="445.0" r="3.25"/><circle cx="200.3" cy="445.3" r="3.25"/><circle cx="189.6" cy="449.1" r="3.25"/><circle cx="209.0" cy="445.0" r="3.25"/><circle cx="222.8" cy="443.6" r="3.25"/><circle cx="225.4" cy="450.2" r="3.25"/><circle cx="159.6" cy="450.5" r="3.25"/><circle cx="211.9" cy="451.9" r="3.25"/><circle cx="230.6" cy="454.3" r="3.25"/><circle cx="235.8" cy="455.4" r="3.25"/><circle cx="164.8" cy="456.6" r="3.25"/><circle cx="199.8" cy="455.7" r="3.25"/><circle cx="200.7" cy="461.8" r="3.25"/><circle cx="178.1" cy="460.9" r="3.25"/><circle cx="228.4" cy="461.3" r="3.25"/><circle cx="209.0" cy="464.4" r="3.25"/><circle cx="212.4" cy="466.1" r="3.25"/><circle cx="216.8" cy="462.6" r="3.25"/><circle cx="222.8" cy="466.1" r="3.25"/><circle cx="237.1" cy="467.9" r="3.25"/><circle cx="233.2" cy="472.2" r="3.25"/><circle cx="187.3" cy="471.3" r="3.25"/><circle cx="247.4" cy="449.6" r="3.25"/><circle cx="248.8" cy="458.3" r="3.25"/><circle cx="248.5" cy="466.5" r="3.25"/><circle cx="249.2" cy="475.6" r="3.25"/><circle cx="202.1" cy="479.3" r="3.25"/><circle cx="215.1" cy="480.7" r="3.25"/><circle cx="220.2" cy="487.6" r="3.25"/><circle cx="226.7" cy="480.3" r="3.25"/><circle cx="246.8" cy="480.3" r="3.25"/><circle cx="249.2" cy="485.0" r="3.25"/><circle cx="246.2" cy="488.5" r="3.25"/><circle cx="242.8" cy="491.9" r="3.25"/><circle cx="247.4" cy="496.6" r="3.25"/><circle cx="256.1" cy="432.8" r="3.25"/><circle cx="258.1" cy="441.5" r="3.25"/><circle cx="263.3" cy="440.5" r="3.25"/><circle cx="271.1" cy="443.9" r="3.25"/><circle cx="275.1" cy="449.6" r="3.25"/><circle cx="252.6" cy="452.2" r="3.25"/><circle cx="260.2" cy="455.4" r="3.25"/><circle cx="263.0" cy="460.6" r="3.25"/><circle cx="270.3" cy="455.4" r="3.25"/><circle cx="273.7" cy="460.1" r="3.25"/><circle cx="287.9" cy="451.4" r="3.25"/><circle cx="294.2" cy="454.0" r="3.25"/><circle cx="284.5" cy="460.9" r="3.25"/><circle cx="291.4" cy="461.8" r="3.25"/><circle cx="255.5" cy="469.6" r="3.25"/><circle cx="256.7" cy="472.7" r="3.25"/><circle cx="250.3" cy="475.6" r="3.25"/><circle cx="282.4" cy="467.9" r="3.25"/><circle cx="278.6" cy="473.1" r="3.25"/><circle cx="295.4" cy="471.7" r="3.25"/><circle cx="301.8" cy="474.4" r="3.25"/><circle cx="307.5" cy="462.6" r="3.25"/><circle cx="311.0" cy="464.4" r="3.25"/><circle cx="308.4" cy="466.5" r="3.25"/><circle cx="312.7" cy="462.3" r="3.25"/><circle cx="320.9" cy="465.2" r="3.25"/><circle cx="311.9" cy="475.1" r="3.25"/><circle cx="328.8" cy="467.9" r="3.25"/><circle cx="330.1" cy="471.0" r="3.25"/><circle cx="338.7" cy="468.7" r="3.25"/><circle cx="337.0" cy="473.1" r="3.25"/><circle cx="341.0" cy="467.9" r="3.25"/><circle cx="346.9" cy="472.2" r="3.25"/><circle cx="353.8" cy="475.6" r="3.25"/><circle cx="258.1" cy="477.2" r="3.25"/><circle cx="252.9" cy="485.0" r="3.25"/><circle cx="249.8" cy="492.8" r="3.25"/><circle cx="270.3" cy="477.2" r="3.25"/><circle cx="272.9" cy="479.8" r="3.25"/><circle cx="276.3" cy="480.7" r="3.25"/><circle cx="279.8" cy="479.3" r="3.25"/><circle cx="282.4" cy="476.3" r="3.25"/><circle cx="266.8" cy="483.8" r="3.25"/><circle cx="262.5" cy="485.0" r="3.25"/><circle cx="291.9" cy="481.0" r="3.25"/><circle cx="305.8" cy="478.1" r="3.25"/><circle cx="313.2" cy="481.5" r="3.25"/><circle cx="320.9" cy="483.8" r="3.25"/><circle cx="330.1" cy="482.4" r="3.25"/><circle cx="332.6" cy="484.5" r="3.25"/><circle cx="340.4" cy="478.9" r="3.25"/><circle cx="350.0" cy="480.7" r="3.25"/><circle cx="352.6" cy="482.4" r="3.25"/><circle cx="287.2" cy="489.3" r="3.25"/><circle cx="294.2" cy="489.7" r="3.25"/><circle cx="263.0" cy="494.2" r="3.25"/><circle cx="269.4" cy="496.3" r="3.25"/><circle cx="265.9" cy="498.3" r="3.25"/><circle cx="268.9" cy="504.1" r="3.25"/><circle cx="311.9" cy="492.8" r="3.25"/><circle cx="317.9" cy="495.4" r="3.25"/><circle cx="300.1" cy="503.2" r="3.25"/><circle cx="305.8" cy="502.9" r="3.25"/><circle cx="297.6" cy="506.7" r="3.25"/><circle cx="307.5" cy="508.4" r="3.25"/><circle cx="316.2" cy="508.1" r="3.25"/><circle cx="317.1" cy="513.6" r="3.25"/><circle cx="342.7" cy="504.6" r="3.25"/><circle cx="347.4" cy="511.9" r="3.25"/><circle cx="355.5" cy="510.5" r="3.25"/><circle cx="360.7" cy="520.9" r="3.25"/><circle cx="362.1" cy="521.4" r="3.25"/><circle cx="371.4" cy="482.7" r="3.25"/><circle cx="404.7" cy="486.2" r="3.25"/><circle cx="364.8" cy="490.2" r="3.25"/><circle cx="365.3" cy="496.3" r="3.25"/><circle cx="377.5" cy="491.1" r="3.25"/><circle cx="376.2" cy="494.2" r="3.25"/><circle cx="381.8" cy="494.9" r="3.25"/><circle cx="382.1" cy="498.3" r="3.25"/><circle cx="394.8" cy="493.7" r="3.25"/><circle cx="398.8" cy="499.4" r="3.25"/><circle cx="404.3" cy="498.9" r="3.25"/><circle cx="413.9" cy="498.0" r="3.25"/><circle cx="413.0" cy="501.8" r="3.25"/><circle cx="418.5" cy="500.6" r="3.25"/><circle cx="408.1" cy="504.1" r="3.25"/><circle cx="393.1" cy="504.1" r="3.25"/><circle cx="396.5" cy="507.5" r="3.25"/><circle cx="392.2" cy="509.3" r="3.25"/><circle cx="385.3" cy="510.5" r="3.25"/><circle cx="397.7" cy="513.2" r="3.25"/><circle cx="400.5" cy="512.7" r="3.25"/><circle cx="367.9" cy="505.8" r="3.25"/><circle cx="376.6" cy="512.2" r="3.25"/><circle cx="372.8" cy="515.3" r="3.25"/><circle cx="366.2" cy="513.6" r="3.25"/><circle cx="369.3" cy="521.9" r="3.25"/><circle cx="379.2" cy="522.6" r="3.25"/><circle cx="393.6" cy="521.9" r="3.25"/><circle cx="398.8" cy="523.1" r="3.25"/><circle cx="409.9" cy="515.3" r="3.25"/><circle cx="410.4" cy="522.3" r="3.25"/><circle cx="417.3" cy="520.2" r="3.25"/><circle cx="416.4" cy="525.4" r="3.25"/><circle cx="433.4" cy="496.3" r="3.25"/><circle cx="432.4" cy="498.9" r="3.25"/><circle cx="426.5" cy="502.9" r="3.25"/><circle cx="431.2" cy="504.6" r="3.25"/><circle cx="440.4" cy="508.7" r="3.25"/><circle cx="441.1" cy="513.2" r="3.25"/><circle cx="439.9" cy="516.7" r="3.25"/><circle cx="447.3" cy="498.0" r="3.25"/><circle cx="452.0" cy="498.0" r="3.25"/><circle cx="447.3" cy="504.6" r="3.25"/><circle cx="447.3" cy="507.5" r="3.25"/><circle cx="462.4" cy="498.0" r="3.25"/><circle cx="462.9" cy="500.6" r="3.25"/><circle cx="464.6" cy="504.1" r="3.25"/><circle cx="457.7" cy="508.7" r="3.25"/><circle cx="471.0" cy="502.9" r="3.25"/><circle cx="474.5" cy="504.6" r="3.25"/><circle cx="469.8" cy="509.8" r="3.25"/><circle cx="472.8" cy="512.7" r="3.25"/><circle cx="475.4" cy="515.0" r="3.25"/><circle cx="454.6" cy="520.9" r="3.25"/><circle cx="457.7" cy="519.7" r="3.25"/><circle cx="463.6" cy="522.6" r="3.25"/><circle cx="445.6" cy="529.5" r="3.25"/><circle cx="454.1" cy="530.9" r="3.25"/><circle cx="466.2" cy="531.8" r="3.25"/></g>
<g fill="#22A077"><circle cx="22.6" cy="191.8" r="3.25"/><circle cx="27.3" cy="197.9" r="3.25"/><circle cx="23.8" cy="204.4" r="3.25"/><circle cx="29.5" cy="207.4" r="3.25"/><circle cx="31.9" cy="207.6" r="3.25"/><circle cx="22.6" cy="220.4" r="3.25"/><circle cx="51.5" cy="190.1" r="3.25"/><circle cx="55.0" cy="188.8" r="3.25"/><circle cx="57.6" cy="191.3" r="3.25"/><circle cx="52.4" cy="193.5" r="3.25"/><circle cx="47.2" cy="199.2" r="3.25"/><circle cx="55.0" cy="200.5" r="3.25"/><circle cx="51.5" cy="204.8" r="3.25"/><circle cx="64.2" cy="197.5" r="3.25"/><circle cx="42.3" cy="213.8" r="3.25"/><circle cx="60.2" cy="208.6" r="3.25"/><circle cx="59.3" cy="211.7" r="3.25"/><circle cx="64.5" cy="211.7" r="3.25"/><circle cx="53.8" cy="215.2" r="3.25"/><circle cx="57.6" cy="214.3" r="3.25"/><circle cx="56.2" cy="221.8" r="3.25"/><circle cx="60.2" cy="223.5" r="3.25"/><circle cx="62.8" cy="226.5" r="3.25"/><circle cx="64.9" cy="228.7" r="3.25"/><circle cx="63.1" cy="233.4" r="3.25"/><circle cx="62.8" cy="236.3" r="3.25"/><circle cx="43.4" cy="235.6" r="3.25"/><circle cx="51.5" cy="235.1" r="3.25"/><circle cx="53.3" cy="238.6" r="3.25"/><circle cx="55.5" cy="240.3" r="3.25"/><circle cx="22.6" cy="248.1" r="3.25"/><circle cx="25.5" cy="247.2" r="3.25"/><circle cx="34.2" cy="250.7" r="3.25"/><circle cx="43.7" cy="254.7" r="3.25"/><circle cx="48.1" cy="253.3" r="3.25"/><circle cx="52.9" cy="254.2" r="3.25"/><circle cx="61.6" cy="253.0" r="3.25"/><circle cx="47.2" cy="259.9" r="3.25"/><circle cx="45.8" cy="264.6" r="3.25"/><circle cx="48.1" cy="265.4" r="3.25"/><circle cx="68.9" cy="260.2" r="3.25"/><circle cx="67.6" cy="262.9" r="3.25"/><circle cx="24.3" cy="258.9" r="3.25"/><circle cx="22.1" cy="262.9" r="3.25"/><circle cx="26.7" cy="264.6" r="3.25"/><circle cx="22.1" cy="270.6" r="3.25"/><circle cx="25.5" cy="270.6" r="3.25"/><circle cx="33.0" cy="264.1" r="3.25"/><circle cx="34.7" cy="268.6" r="3.25"/><circle cx="51.5" cy="270.6" r="3.25"/><circle cx="55.0" cy="272.4" r="3.25"/><circle cx="58.5" cy="273.2" r="3.25"/><circle cx="65.9" cy="274.1" r="3.25"/><circle cx="62.8" cy="277.6" r="3.25"/><circle cx="66.3" cy="279.0" r="3.25"/><circle cx="30.2" cy="277.6" r="3.25"/><circle cx="26.7" cy="283.6" r="3.25"/><circle cx="41.6" cy="282.4" r="3.25"/><circle cx="52.7" cy="280.2" r="3.25"/><circle cx="51.5" cy="283.6" r="3.25"/><circle cx="77.5" cy="282.8" r="3.25"/><circle cx="20.3" cy="287.8" r="3.25"/><circle cx="23.8" cy="292.5" r="3.25"/><circle cx="31.2" cy="287.3" r="3.25"/><circle cx="43.7" cy="288.7" r="3.25"/><circle cx="51.5" cy="284.3" r="3.25"/><circle cx="61.4" cy="285.2" r="3.25"/><circle cx="63.1" cy="289.5" r="3.25"/><circle cx="64.5" cy="293.0" r="3.25"/><circle cx="75.8" cy="284.3" r="3.25"/><circle cx="76.7" cy="287.8" r="3.25"/><circle cx="74.9" cy="289.5" r="3.25"/><circle cx="66.3" cy="300.4" r="3.25"/><circle cx="68.0" cy="299.9" r="3.25"/><circle cx="76.7" cy="297.9" r="3.25"/><circle cx="80.1" cy="301.7" r="3.25"/><circle cx="81.5" cy="305.1" r="3.25"/><circle cx="29.0" cy="300.8" r="3.25"/><circle cx="31.2" cy="303.4" r="3.25"/><circle cx="35.9" cy="305.1" r="3.25"/><circle cx="41.1" cy="306.0" r="3.25"/><circle cx="36.8" cy="308.6" r="3.25"/><circle cx="39.4" cy="312.1" r="3.25"/><circle cx="36.8" cy="316.4" r="3.25"/><circle cx="55.5" cy="309.5" r="3.25"/><circle cx="51.5" cy="312.9" r="3.25"/><circle cx="53.3" cy="317.3" r="3.25"/><circle cx="55.9" cy="319.9" r="3.25"/><circle cx="47.2" cy="320.7" r="3.25"/><circle cx="51.5" cy="323.0" r="3.25"/><circle cx="61.4" cy="319.5" r="3.25"/><circle cx="73.7" cy="318.5" r="3.25"/><circle cx="24.3" cy="321.6" r="3.25"/><circle cx="23.8" cy="328.2" r="3.25"/><circle cx="24.3" cy="334.6" r="3.25"/><circle cx="20.9" cy="339.8" r="3.25"/><circle cx="33.3" cy="324.2" r="3.25"/><circle cx="35.9" cy="326.4" r="3.25"/><circle cx="38.5" cy="332.9" r="3.25"/><circle cx="45.1" cy="330.3" r="3.25"/><circle cx="52.4" cy="331.1" r="3.25"/><circle cx="50.7" cy="335.8" r="3.25"/><circle cx="60.7" cy="327.7" r="3.25"/><circle cx="59.0" cy="331.1" r="3.25"/><circle cx="62.4" cy="330.6" r="3.25"/><circle cx="66.6" cy="329.9" r="3.25"/><circle cx="81.8" cy="326.4" r="3.25"/><circle cx="62.4" cy="340.6" r="3.25"/><circle cx="71.5" cy="341.0" r="3.25"/><circle cx="76.3" cy="345.5" r="3.25"/><circle cx="81.5" cy="338.9" r="3.25"/><circle cx="83.6" cy="341.0" r="3.25"/><circle cx="34.7" cy="345.0" r="3.25"/><circle cx="37.7" cy="347.9" r="3.25"/><circle cx="34.2" cy="348.4" r="3.25"/><circle cx="42.9" cy="349.0" r="3.25"/><circle cx="34.2" cy="354.9" r="3.25"/><circle cx="37.7" cy="354.5" r="3.25"/><circle cx="50.7" cy="353.1" r="3.25"/><circle cx="48.1" cy="359.7" r="3.25"/><circle cx="55.0" cy="361.8" r="3.25"/><circle cx="62.4" cy="351.4" r="3.25"/><circle cx="60.2" cy="355.4" r="3.25"/><circle cx="66.3" cy="351.9" r="3.25"/><circle cx="68.9" cy="351.1" r="3.25"/><circle cx="66.6" cy="355.9" r="3.25"/><circle cx="78.0" cy="354.5" r="3.25"/><circle cx="81.5" cy="355.9" r="3.25"/><circle cx="77.5" cy="360.6" r="3.25"/><circle cx="72.8" cy="364.9" r="3.25"/><circle cx="79.8" cy="367.0" r="3.25"/><circle cx="90.9" cy="352.4" r="3.25"/><circle cx="92.2" cy="351.1" r="3.25"/><circle cx="89.1" cy="366.3" r="3.25"/><circle cx="88.4" cy="368.4" r="3.25"/><circle cx="49.8" cy="369.2" r="3.25"/><circle cx="61.4" cy="373.6" r="3.25"/><circle cx="34.2" cy="372.2" r="3.25"/><circle cx="29.5" cy="376.7" r="3.25"/><circle cx="55.5" cy="379.6" r="3.25"/><circle cx="62.8" cy="381.2" r="3.25"/><circle cx="60.7" cy="383.8" r="3.25"/><circle cx="95.7" cy="386.7" r="3.25"/><circle cx="50.1" cy="390.2" r="3.25"/><circle cx="36.5" cy="393.0" r="3.25"/><circle cx="41.6" cy="393.7" r="3.25"/><circle cx="26.4" cy="393.7" r="3.25"/><circle cx="77.5" cy="392.5" r="3.25"/><circle cx="51.5" cy="396.4" r="3.25"/><circle cx="71.8" cy="397.1" r="3.25"/><circle cx="66.3" cy="399.9" r="3.25"/><circle cx="36.5" cy="400.3" r="3.25"/><circle cx="57.9" cy="401.1" r="3.25"/><circle cx="23.8" cy="402.9" r="3.25"/><circle cx="23.8" cy="405.8" r="3.25"/><circle cx="90.5" cy="398.5" r="3.25"/><circle cx="93.6" cy="401.6" r="3.25"/><circle cx="96.1" cy="405.8" r="3.25"/><circle cx="47.5" cy="406.9" r="3.25"/><circle cx="44.6" cy="409.3" r="3.25"/><circle cx="38.5" cy="408.6" r="3.25"/><circle cx="34.7" cy="410.7" r="3.25"/><circle cx="71.8" cy="407.2" r="3.25"/><circle cx="71.1" cy="411.5" r="3.25"/><circle cx="74.6" cy="414.5" r="3.25"/><circle cx="85.3" cy="408.6" r="3.25"/><circle cx="111.7" cy="408.6" r="3.25"/><circle cx="41.6" cy="417.2" r="3.25"/><circle cx="42.3" cy="421.4" r="3.25"/><circle cx="71.8" cy="418.5" r="3.25"/><circle cx="73.2" cy="421.9" r="3.25"/><circle cx="66.3" cy="420.2" r="3.25"/><circle cx="79.2" cy="421.1" r="3.25"/><circle cx="55.9" cy="421.9" r="3.25"/><circle cx="33.0" cy="422.8" r="3.25"/><circle cx="61.9" cy="425.9" r="3.25"/><circle cx="43.7" cy="427.1" r="3.25"/><circle cx="26.4" cy="427.6" r="3.25"/><circle cx="107.5" cy="419.3" r="3.25"/><circle cx="106.5" cy="424.9" r="3.25"/><circle cx="124.8" cy="416.7" r="3.25"/><circle cx="98.8" cy="426.3" r="3.25"/><circle cx="120.0" cy="425.4" r="3.25"/><circle cx="85.7" cy="428.3" r="3.25"/><circle cx="112.2" cy="430.6" r="3.25"/><circle cx="115.1" cy="431.8" r="3.25"/><circle cx="131.8" cy="425.4" r="3.25"/><circle cx="133.5" cy="427.6" r="3.25"/><circle cx="56.2" cy="434.1" r="3.25"/><circle cx="86.2" cy="436.6" r="3.25"/><circle cx="45.8" cy="438.0" r="3.25"/><circle cx="49.8" cy="439.2" r="3.25"/><circle cx="48.1" cy="441.9" r="3.25"/><circle cx="68.3" cy="437.0" r="3.25"/><circle cx="72.3" cy="437.5" r="3.25"/><circle cx="77.5" cy="437.0" r="3.25"/><circle cx="68.0" cy="440.5" r="3.25"/><circle cx="64.2" cy="443.6" r="3.25"/><circle cx="71.5" cy="442.2" r="3.25"/><circle cx="71.8" cy="445.7" r="3.25"/><circle cx="89.7" cy="442.7" r="3.25"/><circle cx="22.1" cy="441.9" r="3.25"/><circle cx="32.8" cy="441.0" r="3.25"/><circle cx="34.2" cy="447.4" r="3.25"/><circle cx="60.7" cy="450.2" r="3.25"/><circle cx="81.0" cy="449.1" r="3.25"/><circle cx="79.8" cy="451.4" r="3.25"/><circle cx="71.1" cy="454.0" r="3.25"/><circle cx="38.2" cy="454.3" r="3.25"/><circle cx="94.3" cy="450.9" r="3.25"/><circle cx="106.1" cy="443.6" r="3.25"/><circle cx="104.0" cy="447.1" r="3.25"/><circle cx="102.7" cy="450.9" r="3.25"/><circle cx="102.3" cy="454.9" r="3.25"/><circle cx="105.2" cy="456.1" r="3.25"/><circle cx="96.1" cy="457.4" r="3.25"/><circle cx="98.3" cy="459.5" r="3.25"/><circle cx="104.4" cy="460.1" r="3.25"/><circle cx="115.1" cy="441.5" r="3.25"/><circle cx="120.0" cy="442.7" r="3.25"/><circle cx="125.2" cy="441.5" r="3.25"/><circle cx="126.9" cy="435.8" r="3.25"/><circle cx="129.5" cy="436.6" r="3.25"/><circle cx="111.7" cy="451.4" r="3.25"/><circle cx="118.6" cy="457.4" r="3.25"/><circle cx="119.1" cy="460.1" r="3.25"/><circle cx="125.5" cy="460.1" r="3.25"/><circle cx="126.0" cy="464.0" r="3.25"/><circle cx="133.5" cy="454.9" r="3.25"/><circle cx="32.5" cy="460.1" r="3.25"/><circle cx="33.7" cy="463.5" r="3.25"/><circle cx="32.5" cy="465.8" r="3.25"/><circle cx="25.5" cy="465.8" r="3.25"/><circle cx="38.9" cy="470.4" r="3.25"/><circle cx="48.1" cy="468.2" r="3.25"/><circle cx="67.5" cy="469.2" r="3.25"/><circle cx="81.8" cy="472.7" r="3.25"/><circle cx="23.8" cy="473.9" r="3.25"/><circle cx="55.0" cy="475.6" r="3.25"/><circle cx="125.5" cy="467.0" r="3.25"/><circle cx="126.9" cy="469.6" r="3.25"/><circle cx="123.1" cy="474.8" r="3.25"/><circle cx="132.4" cy="467.0" r="3.25"/><circle cx="52.7" cy="479.3" r="3.25"/><circle cx="74.9" cy="478.9" r="3.25"/><circle cx="74.0" cy="481.5" r="3.25"/><circle cx="134.2" cy="479.3" r="3.25"/><circle cx="44.1" cy="481.5" r="3.25"/><circle cx="38.2" cy="483.8" r="3.25"/><circle cx="59.0" cy="483.3" r="3.25"/><circle cx="50.7" cy="485.5" r="3.25"/><circle cx="55.5" cy="488.5" r="3.25"/><circle cx="54.5" cy="491.9" r="3.25"/><circle cx="68.9" cy="486.7" r="3.25"/><circle cx="70.6" cy="489.3" r="3.25"/><circle cx="78.4" cy="486.2" r="3.25"/><circle cx="81.5" cy="490.2" r="3.25"/><circle cx="80.5" cy="493.7" r="3.25"/><circle cx="72.3" cy="493.7" r="3.25"/><circle cx="102.7" cy="482.1" r="3.25"/><circle cx="117.9" cy="485.5" r="3.25"/><circle cx="122.6" cy="485.9" r="3.25"/><circle cx="127.3" cy="481.5" r="3.25"/><circle cx="130.4" cy="483.3" r="3.25"/><circle cx="24.3" cy="486.2" r="3.25"/><circle cx="26.7" cy="489.3" r="3.25"/><circle cx="32.5" cy="491.1" r="3.25"/><circle cx="43.7" cy="494.5" r="3.25"/><circle cx="45.5" cy="498.9" r="3.25"/><circle cx="59.7" cy="497.1" r="3.25"/><circle cx="29.9" cy="498.9" r="3.25"/><circle cx="27.3" cy="502.9" r="3.25"/><circle cx="26.1" cy="507.5" r="3.25"/><circle cx="35.6" cy="506.1" r="3.25"/><circle cx="42.9" cy="508.4" r="3.25"/><circle cx="45.8" cy="508.4" r="3.25"/><circle cx="46.9" cy="511.9" r="3.25"/><circle cx="43.7" cy="514.5" r="3.25"/><circle cx="42.0" cy="517.9" r="3.25"/><circle cx="65.0" cy="508.7" r="3.25"/><circle cx="54.1" cy="515.7" r="3.25"/><circle cx="30.2" cy="517.4" r="3.25"/><circle cx="28.5" cy="519.1" r="3.25"/><circle cx="20.9" cy="520.5" r="3.25"/><circle cx="80.1" cy="501.8" r="3.25"/><circle cx="83.9" cy="504.1" r="3.25"/><circle cx="83.6" cy="506.7" r="3.25"/><circle cx="88.8" cy="500.6" r="3.25"/><circle cx="91.9" cy="503.2" r="3.25"/><circle cx="97.5" cy="504.6" r="3.25"/><circle cx="105.2" cy="504.9" r="3.25"/><circle cx="107.5" cy="504.1" r="3.25"/><circle cx="128.3" cy="504.1" r="3.25"/><circle cx="132.1" cy="501.1" r="3.25"/><circle cx="27.8" cy="527.5" r="3.25"/><circle cx="48.4" cy="525.4" r="3.25"/><circle cx="51.9" cy="531.4" r="3.25"/><circle cx="45.8" cy="533.0" r="3.25"/><circle cx="38.9" cy="533.9" r="3.25"/><circle cx="20.9" cy="535.2" r="3.25"/><circle cx="26.1" cy="536.5" r="3.25"/><circle cx="29.2" cy="542.7" r="3.25"/><circle cx="53.8" cy="542.7" r="3.25"/><circle cx="82.4" cy="524.9" r="3.25"/><circle cx="97.5" cy="526.1" r="3.25"/><circle cx="105.8" cy="526.1" r="3.25"/><circle cx="112.7" cy="524.9" r="3.25"/><circle cx="115.6" cy="519.1" r="3.25"/><circle cx="132.1" cy="518.4" r="3.25"/><circle cx="133.5" cy="522.3" r="3.25"/><circle cx="74.9" cy="532.3" r="3.25"/><circle cx="70.6" cy="534.0" r="3.25"/><circle cx="68.9" cy="538.7" r="3.25"/><circle cx="83.2" cy="531.8" r="3.25"/><circle cx="87.9" cy="530.6" r="3.25"/><circle cx="86.7" cy="532.6" r="3.25"/><circle cx="91.9" cy="536.5" r="3.25"/><circle cx="93.6" cy="541.0" r="3.25"/><circle cx="100.0" cy="534.4" r="3.25"/><circle cx="106.1" cy="533.5" r="3.25"/><circle cx="81.0" cy="540.5" r="3.25"/><circle cx="108.7" cy="539.6" r="3.25"/><circle cx="109.2" cy="545.6" r="3.25"/><circle cx="107.5" cy="550.0" r="3.25"/><circle cx="105.8" cy="554.3" r="3.25"/><circle cx="101.3" cy="551.7" r="3.25"/><circle cx="101.8" cy="545.6" r="3.25"/><circle cx="96.1" cy="548.2" r="3.25"/><circle cx="117.4" cy="545.6" r="3.25"/><circle cx="124.3" cy="531.8" r="3.25"/><circle cx="130.0" cy="530.9" r="3.25"/><circle cx="133.5" cy="531.8" r="3.25"/><circle cx="77.0" cy="548.2" r="3.25"/><circle cx="50.7" cy="550.0" r="3.25"/><circle cx="49.3" cy="553.5" r="3.25"/><circle cx="48.6" cy="556.0" r="3.25"/><circle cx="23.8" cy="551.7" r="3.25"/><circle cx="25.5" cy="553.5" r="3.25"/><circle cx="21.6" cy="554.3" r="3.25"/><circle cx="33.7" cy="556.9" r="3.25"/><circle cx="36.5" cy="562.1" r="3.25"/><circle cx="41.6" cy="560.0" r="3.25"/><circle cx="22.1" cy="563.0" r="3.25"/><circle cx="23.8" cy="566.5" r="3.25"/><circle cx="31.9" cy="567.7" r="3.25"/><circle cx="81.0" cy="555.2" r="3.25"/><circle cx="82.7" cy="555.5" r="3.25"/><circle cx="90.2" cy="556.9" r="3.25"/><circle cx="80.5" cy="562.1" r="3.25"/><circle cx="85.3" cy="566.5" r="3.25"/><circle cx="91.4" cy="566.5" r="3.25"/><circle cx="58.5" cy="565.9" r="3.25"/><circle cx="61.4" cy="568.7" r="3.25"/><circle cx="72.7" cy="567.3" r="3.25"/><circle cx="103.2" cy="568.2" r="3.25"/><circle cx="119.1" cy="556.0" r="3.25"/><circle cx="119.6" cy="559.5" r="3.25"/><circle cx="127.8" cy="560.7" r="3.25"/><circle cx="137.6" cy="435.8" r="3.25"/><circle cx="140.5" cy="444.4" r="3.25"/><circle cx="144.5" cy="449.6" r="3.25"/><circle cx="137.9" cy="459.5" r="3.25"/><circle cx="151.8" cy="453.6" r="3.25"/><circle cx="150.1" cy="456.6" r="3.25"/><circle cx="147.5" cy="460.1" r="3.25"/><circle cx="150.9" cy="465.2" r="3.25"/><circle cx="152.7" cy="467.9" r="3.25"/><circle cx="140.5" cy="470.4" r="3.25"/><circle cx="145.7" cy="473.1" r="3.25"/><circle cx="165.7" cy="475.1" r="3.25"/><circle cx="179.2" cy="473.9" r="3.25"/><circle cx="148.3" cy="478.1" r="3.25"/><circle cx="153.2" cy="476.3" r="3.25"/><circle cx="190.3" cy="476.3" r="3.25"/><circle cx="194.2" cy="480.7" r="3.25"/><circle cx="198.2" cy="483.8" r="3.25"/><circle cx="137.1" cy="485.9" r="3.25"/><circle cx="137.6" cy="490.2" r="3.25"/><circle cx="138.3" cy="492.8" r="3.25"/><circle cx="151.8" cy="487.2" r="3.25"/><circle cx="166.2" cy="485.0" r="3.25"/><circle cx="191.7" cy="489.7" r="3.25"/><circle cx="193.0" cy="490.2" r="3.25"/><circle cx="213.8" cy="490.7" r="3.25"/><circle cx="222.8" cy="495.4" r="3.25"/><circle cx="222.5" cy="504.1" r="3.25"/><circle cx="242.3" cy="497.6" r="3.25"/><circle cx="243.6" cy="504.6" r="3.25"/><circle cx="247.4" cy="508.7" r="3.25"/><circle cx="134.8" cy="499.7" r="3.25"/><circle cx="146.6" cy="498.0" r="3.25"/><circle cx="148.0" cy="501.8" r="3.25"/><circle cx="152.1" cy="499.4" r="3.25"/><circle cx="162.2" cy="498.9" r="3.25"/><circle cx="177.8" cy="503.2" r="3.25"/><circle cx="138.8" cy="509.3" r="3.25"/><circle cx="169.1" cy="508.4" r="3.25"/><circle cx="183.9" cy="510.5" r="3.25"/><circle cx="175.2" cy="513.6" r="3.25"/><circle cx="199.4" cy="512.2" r="3.25"/><circle cx="197.7" cy="514.5" r="3.25"/><circle cx="193.4" cy="518.4" r="3.25"/><circle cx="187.8" cy="520.9" r="3.25"/><circle cx="173.5" cy="520.9" r="3.25"/><circle cx="179.9" cy="526.6" r="3.25"/><circle cx="157.0" cy="518.8" r="3.25"/><circle cx="160.1" cy="520.9" r="3.25"/><circle cx="157.9" cy="523.1" r="3.25"/><circle cx="163.1" cy="524.0" r="3.25"/><circle cx="159.1" cy="527.1" r="3.25"/><circle cx="162.2" cy="527.8" r="3.25"/><circle cx="152.1" cy="527.8" r="3.25"/><circle cx="142.8" cy="527.8" r="3.25"/><circle cx="138.8" cy="532.6" r="3.25"/><circle cx="143.1" cy="533.5" r="3.25"/><circle cx="137.6" cy="535.2" r="3.25"/><circle cx="157.3" cy="537.5" r="3.25"/><circle cx="137.9" cy="541.3" r="3.25"/><circle cx="139.3" cy="544.8" r="3.25"/><circle cx="140.5" cy="547.9" r="3.25"/><circle cx="142.3" cy="549.6" r="3.25"/><circle cx="164.3" cy="542.7" r="3.25"/><circle cx="175.2" cy="532.6" r="3.25"/><circle cx="174.0" cy="536.5" r="3.25"/><circle cx="175.7" cy="540.5" r="3.25"/><circle cx="178.7" cy="537.9" r="3.25"/><circle cx="183.0" cy="537.5" r="3.25"/><circle cx="183.0" cy="541.3" r="3.25"/><circle cx="176.1" cy="547.4" r="3.25"/><circle cx="185.1" cy="546.9" r="3.25"/><circle cx="190.8" cy="541.7" r="3.25"/><circle cx="196.0" cy="544.8" r="3.25"/><circle cx="192.0" cy="547.9" r="3.25"/><circle cx="192.0" cy="552.1" r="3.25"/><circle cx="191.7" cy="555.2" r="3.25"/><circle cx="192.0" cy="558.3" r="3.25"/><circle cx="200.7" cy="553.1" r="3.25"/><circle cx="203.4" cy="531.8" r="3.25"/><circle cx="207.2" cy="533.5" r="3.25"/><circle cx="211.1" cy="537.9" r="3.25"/><circle cx="203.4" cy="539.9" r="3.25"/><circle cx="207.6" cy="524.3" r="3.25"/><circle cx="212.8" cy="517.4" r="3.25"/><circle cx="215.9" cy="522.3" r="3.25"/><circle cx="219.4" cy="518.8" r="3.25"/><circle cx="226.0" cy="512.2" r="3.25"/><circle cx="227.2" cy="515.3" r="3.25"/><circle cx="226.7" cy="518.4" r="3.25"/><circle cx="232.9" cy="517.4" r="3.25"/><circle cx="234.1" cy="527.1" r="3.25"/><circle cx="229.8" cy="538.7" r="3.25"/><circle cx="234.6" cy="537.0" r="3.25"/><circle cx="238.1" cy="539.2" r="3.25"/><circle cx="230.6" cy="543.9" r="3.25"/><circle cx="237.1" cy="547.9" r="3.25"/><circle cx="217.3" cy="548.2" r="3.25"/><circle cx="220.2" cy="546.9" r="3.25"/><circle cx="222.8" cy="549.1" r="3.25"/><circle cx="216.8" cy="552.1" r="3.25"/><circle cx="221.1" cy="551.4" r="3.25"/><circle cx="203.4" cy="561.2" r="3.25"/><circle cx="209.3" cy="565.6" r="3.25"/><circle cx="227.7" cy="557.8" r="3.25"/><circle cx="232.4" cy="558.3" r="3.25"/><circle cx="236.7" cy="558.3" r="3.25"/><circle cx="224.2" cy="563.5" r="3.25"/><circle cx="134.8" cy="557.3" r="3.25"/><circle cx="149.2" cy="562.5" r="3.25"/><circle cx="154.9" cy="560.7" r="3.25"/><circle cx="168.3" cy="560.4" r="3.25"/><circle cx="170.5" cy="563.5" r="3.25"/><circle cx="172.6" cy="565.6" r="3.25"/><circle cx="176.4" cy="567.0" r="3.25"/><circle cx="183.9" cy="567.3" r="3.25"/><circle cx="192.5" cy="567.3" r="3.25"/><circle cx="198.6" cy="567.7" r="3.25"/><circle cx="140.0" cy="567.7" r="3.25"/><circle cx="153.5" cy="569.9" r="3.25"/><circle cx="246.2" cy="569.0" r="3.25"/><circle cx="247.1" cy="547.9" r="3.25"/><circle cx="248.8" cy="550.9" r="3.25"/><circle cx="263.0" cy="505.3" r="3.25"/><circle cx="262.5" cy="508.1" r="3.25"/><circle cx="269.4" cy="515.0" r="3.25"/><circle cx="270.6" cy="518.8" r="3.25"/><circle cx="274.1" cy="518.4" r="3.25"/><circle cx="281.5" cy="515.0" r="3.25"/><circle cx="283.8" cy="514.5" r="3.25"/><circle cx="280.7" cy="517.4" r="3.25"/><circle cx="272.3" cy="524.3" r="3.25"/><circle cx="278.9" cy="528.8" r="3.25"/><circle cx="268.9" cy="530.6" r="3.25"/><circle cx="274.6" cy="534.7" r="3.25"/><circle cx="263.0" cy="533.5" r="3.25"/><circle cx="263.3" cy="536.5" r="3.25"/><circle cx="263.3" cy="541.0" r="3.25"/><circle cx="280.3" cy="541.0" r="3.25"/><circle cx="308.7" cy="513.9" r="3.25"/><circle cx="307.5" cy="533.0" r="3.25"/><circle cx="310.5" cy="537.0" r="3.25"/><circle cx="305.8" cy="540.5" r="3.25"/><circle cx="309.2" cy="538.7" r="3.25"/><circle cx="298.9" cy="541.0" r="3.25"/><circle cx="320.5" cy="537.0" r="3.25"/><circle cx="330.1" cy="531.3" r="3.25"/><circle cx="334.4" cy="533.5" r="3.25"/><circle cx="336.1" cy="524.0" r="3.25"/><circle cx="347.9" cy="528.8" r="3.25"/><circle cx="352.6" cy="527.5" r="3.25"/><circle cx="354.3" cy="524.0" r="3.25"/><circle cx="363.8" cy="531.3" r="3.25"/><circle cx="359.5" cy="539.6" r="3.25"/><circle cx="360.0" cy="543.4" r="3.25"/><circle cx="354.3" cy="546.5" r="3.25"/><circle cx="353.1" cy="550.9" r="3.25"/><circle cx="250.3" cy="546.9" r="3.25"/><circle cx="253.8" cy="553.1" r="3.25"/><circle cx="272.9" cy="546.9" r="3.25"/><circle cx="273.4" cy="551.4" r="3.25"/><circle cx="268.5" cy="552.1" r="3.25"/><circle cx="266.4" cy="554.8" r="3.25"/><circle cx="267.1" cy="558.3" r="3.25"/><circle cx="261.9" cy="561.8" r="3.25"/><circle cx="276.3" cy="559.5" r="3.25"/><circle cx="285.9" cy="553.8" r="3.25"/><circle cx="290.7" cy="556.0" r="3.25"/><circle cx="310.1" cy="548.2" r="3.25"/><circle cx="309.2" cy="552.6" r="3.25"/><circle cx="311.5" cy="552.1" r="3.25"/><circle cx="332.3" cy="554.3" r="3.25"/><circle cx="338.7" cy="556.0" r="3.25"/><circle cx="341.0" cy="557.8" r="3.25"/><circle cx="339.6" cy="560.4" r="3.25"/><circle cx="328.8" cy="562.5" r="3.25"/><circle cx="327.4" cy="563.5" r="3.25"/><circle cx="347.4" cy="563.9" r="3.25"/><circle cx="349.1" cy="567.0" r="3.25"/><circle cx="344.4" cy="569.4" r="3.25"/><circle cx="363.0" cy="555.5" r="3.25"/><circle cx="359.0" cy="561.2" r="3.25"/><circle cx="362.4" cy="563.0" r="3.25"/><circle cx="317.1" cy="569.4" r="3.25"/><circle cx="267.1" cy="567.0" r="3.25"/><circle cx="281.2" cy="567.0" r="3.25"/><circle cx="388.4" cy="530.9" r="3.25"/><circle cx="406.6" cy="531.8" r="3.25"/><circle cx="417.8" cy="532.3" r="3.25"/><circle cx="421.6" cy="533.5" r="3.25"/><circle cx="424.8" cy="538.7" r="3.25"/><circle cx="366.2" cy="539.2" r="3.25"/><circle cx="398.8" cy="539.6" r="3.25"/><circle cx="387.3" cy="543.9" r="3.25"/><circle cx="387.3" cy="546.2" r="3.25"/><circle cx="402.9" cy="546.2" r="3.25"/><circle cx="364.8" cy="547.4" r="3.25"/><circle cx="369.7" cy="550.9" r="3.25"/><circle cx="410.9" cy="550.9" r="3.25"/><circle cx="423.4" cy="549.1" r="3.25"/><circle cx="426.0" cy="553.8" r="3.25"/><circle cx="432.4" cy="547.9" r="3.25"/><circle cx="435.5" cy="546.9" r="3.25"/><circle cx="431.2" cy="552.1" r="3.25"/><circle cx="433.4" cy="557.8" r="3.25"/><circle cx="435.2" cy="556.9" r="3.25"/><circle cx="439.9" cy="557.8" r="3.25"/><circle cx="368.8" cy="559.0" r="3.25"/><circle cx="381.4" cy="556.0" r="3.25"/><circle cx="383.9" cy="557.8" r="3.25"/><circle cx="397.4" cy="554.8" r="3.25"/><circle cx="401.2" cy="554.3" r="3.25"/><circle cx="394.8" cy="560.4" r="3.25"/><circle cx="403.1" cy="563.0" r="3.25"/><circle cx="378.3" cy="563.9" r="3.25"/><circle cx="389.6" cy="566.5" r="3.25"/><circle cx="368.8" cy="569.4" r="3.25"/><circle cx="420.8" cy="563.9" r="3.25"/><circle cx="416.4" cy="568.7" r="3.25"/><circle cx="430.3" cy="569.4" r="3.25"/><circle cx="450.8" cy="553.8" r="3.25"/><circle cx="452.9" cy="556.9" r="3.25"/><circle cx="449.7" cy="557.8" r="3.25"/><circle cx="462.4" cy="553.1" r="3.25"/><circle cx="468.8" cy="556.9" r="3.25"/><circle cx="474.9" cy="551.7" r="3.25"/><circle cx="454.9" cy="565.2" r="3.25"/><circle cx="463.2" cy="566.5" r="3.25"/><circle cx="457.2" cy="538.7" r="3.25"/><circle cx="461.9" cy="537.5" r="3.25"/><circle cx="464.1" cy="535.2" r="3.25"/><circle cx="461.2" cy="542.7" r="3.25"/></g>
<text x="172.8" y="597.9" font-size="11.6" fill="#2b2b2b" style="font-family:'Liberation Serif','Noto Serif CJK SC',serif">微信公众号：海洋与大气科学</text>
</svg>
</body></html>
